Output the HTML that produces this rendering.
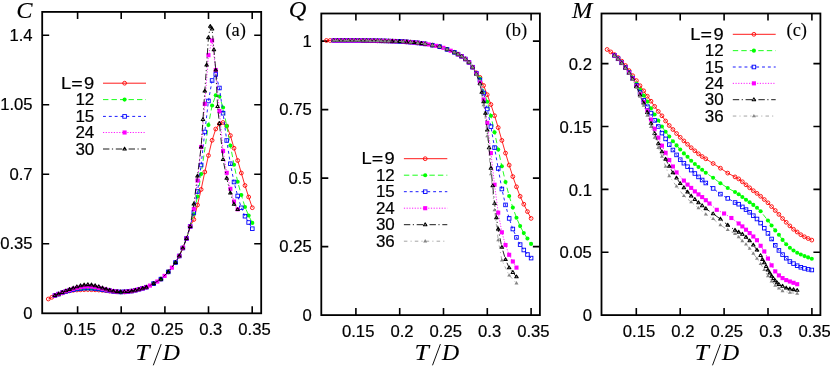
<!DOCTYPE html>
<html><head><meta charset="utf-8"><title>chart</title>
<style>
html,body{margin:0;padding:0;background:#fff;}
body{width:830px;height:370px;overflow:hidden;font-family:"Liberation Sans",sans-serif;}
svg{display:block;will-change:transform}
</style></head><body>
<svg width="830" height="370" viewBox="0 0 830 370">
<rect width="830" height="370" fill="#fff"/>
<g>
<rect x="42.2" y="11.9" width="219" height="301.4" fill="none" stroke="#000" stroke-width="1.8"/>
<path d="M77.6 313.3v-7M77.6 11.9v7M121.2 313.3v-7M121.2 11.9v7M164.9 313.3v-7M164.9 11.9v7M208.5 313.3v-7M208.5 11.9v7M252.2 313.3v-7M252.2 11.9v7M42.2 243.8h7M261.2 243.8h-7M42.2 174.3h7M261.2 174.3h-7M42.2 104.8h7M261.2 104.8h-7M42.2 35.3h7M261.2 35.3h-7" stroke="#000" stroke-width="1.6" fill="none"/>
<text transform="translate(79.9,335) scale(1.01,1)" font-family='"Liberation Sans", sans-serif' font-size="16.5" text-anchor="middle" fill="#000" stroke="#000" stroke-width="0.2">0.15</text>
<text transform="translate(123.5,335) scale(1.01,1)" font-family='"Liberation Sans", sans-serif' font-size="16.5" text-anchor="middle" fill="#000" stroke="#000" stroke-width="0.2">0.2</text>
<text transform="translate(167.2,335) scale(1.01,1)" font-family='"Liberation Sans", sans-serif' font-size="16.5" text-anchor="middle" fill="#000" stroke="#000" stroke-width="0.2">0.25</text>
<text transform="translate(210.8,335) scale(1.01,1)" font-family='"Liberation Sans", sans-serif' font-size="16.5" text-anchor="middle" fill="#000" stroke="#000" stroke-width="0.2">0.3</text>
<text transform="translate(254.5,335) scale(1.01,1)" font-family='"Liberation Sans", sans-serif' font-size="16.5" text-anchor="middle" fill="#000" stroke="#000" stroke-width="0.2">0.35</text>
<text transform="translate(32.6,249.4) scale(1.01,1)" font-family='"Liberation Sans", sans-serif' font-size="16.5" text-anchor="end" fill="#000" stroke="#000" stroke-width="0.2">0.35</text>
<text transform="translate(32.6,179.9) scale(1.01,1)" font-family='"Liberation Sans", sans-serif' font-size="16.5" text-anchor="end" fill="#000" stroke="#000" stroke-width="0.2">0.7</text>
<text transform="translate(32.6,110.4) scale(1.01,1)" font-family='"Liberation Sans", sans-serif' font-size="16.5" text-anchor="end" fill="#000" stroke="#000" stroke-width="0.2">1.05</text>
<text transform="translate(32.6,40.9) scale(1.01,1)" font-family='"Liberation Sans", sans-serif' font-size="16.5" text-anchor="end" fill="#000" stroke="#000" stroke-width="0.2">1.4</text>
<text transform="translate(32.6,318.9) scale(1.01,1)" font-family='"Liberation Sans", sans-serif' font-size="16.5" text-anchor="end" fill="#000" stroke="#000" stroke-width="0.2">0</text>
<polyline points="48.32,299.01 51.78,297.32 54.93,295.54 58.59,294.18 62.24,292.94 65.9,291.76 69.55,290.89 73.21,290.36 76.86,290 80.52,289.82 84.17,289.68 87.83,289.6 91.48,289.7 95.14,289.84 98.79,290.04 102.45,290.35 106.1,290.69 109.76,291.14 113.41,291.59 117.07,291.88 120.72,292.04 124.38,291.87 128.03,291.53 131.69,291.06 135.34,290.24 139,289.26 142.65,288.32 146.31,287.2 153.62,283.6 160.93,279.1 168.24,271.9 175.55,262.5 179.2,256 182.86,248 186.51,238.5 190.17,226.5 193.82,219.5 197.48,205 201.13,189.5 204.79,172 208.44,155.5 212.1,140.3 215.75,129 219.41,124 223.06,122.5 226.72,126 230.37,135.5 234.03,148.2 237.68,160.5 241.34,173 244.99,185.5 248.65,197 252.3,207.7" fill="none" stroke="#ff0000" stroke-width="0.85"/>
<circle cx="48.32" cy="299.01" r="1.9" fill="none" stroke="#ff0000" stroke-width="0.9"/><circle cx="51.78" cy="297.32" r="1.9" fill="none" stroke="#ff0000" stroke-width="0.9"/><circle cx="54.93" cy="295.54" r="1.9" fill="none" stroke="#ff0000" stroke-width="0.9"/><circle cx="58.59" cy="294.18" r="1.9" fill="none" stroke="#ff0000" stroke-width="0.9"/><circle cx="62.24" cy="292.94" r="1.9" fill="none" stroke="#ff0000" stroke-width="0.9"/><circle cx="65.9" cy="291.76" r="1.9" fill="none" stroke="#ff0000" stroke-width="0.9"/><circle cx="69.55" cy="290.89" r="1.9" fill="none" stroke="#ff0000" stroke-width="0.9"/><circle cx="73.21" cy="290.36" r="1.9" fill="none" stroke="#ff0000" stroke-width="0.9"/><circle cx="76.86" cy="290" r="1.9" fill="none" stroke="#ff0000" stroke-width="0.9"/><circle cx="80.52" cy="289.82" r="1.9" fill="none" stroke="#ff0000" stroke-width="0.9"/><circle cx="84.17" cy="289.68" r="1.9" fill="none" stroke="#ff0000" stroke-width="0.9"/><circle cx="87.83" cy="289.6" r="1.9" fill="none" stroke="#ff0000" stroke-width="0.9"/><circle cx="91.48" cy="289.7" r="1.9" fill="none" stroke="#ff0000" stroke-width="0.9"/><circle cx="95.14" cy="289.84" r="1.9" fill="none" stroke="#ff0000" stroke-width="0.9"/><circle cx="98.79" cy="290.04" r="1.9" fill="none" stroke="#ff0000" stroke-width="0.9"/><circle cx="102.45" cy="290.35" r="1.9" fill="none" stroke="#ff0000" stroke-width="0.9"/><circle cx="106.1" cy="290.69" r="1.9" fill="none" stroke="#ff0000" stroke-width="0.9"/><circle cx="109.76" cy="291.14" r="1.9" fill="none" stroke="#ff0000" stroke-width="0.9"/><circle cx="113.41" cy="291.59" r="1.9" fill="none" stroke="#ff0000" stroke-width="0.9"/><circle cx="117.07" cy="291.88" r="1.9" fill="none" stroke="#ff0000" stroke-width="0.9"/><circle cx="120.72" cy="292.04" r="1.9" fill="none" stroke="#ff0000" stroke-width="0.9"/><circle cx="124.38" cy="291.87" r="1.9" fill="none" stroke="#ff0000" stroke-width="0.9"/><circle cx="128.03" cy="291.53" r="1.9" fill="none" stroke="#ff0000" stroke-width="0.9"/><circle cx="131.69" cy="291.06" r="1.9" fill="none" stroke="#ff0000" stroke-width="0.9"/><circle cx="135.34" cy="290.24" r="1.9" fill="none" stroke="#ff0000" stroke-width="0.9"/><circle cx="139" cy="289.26" r="1.9" fill="none" stroke="#ff0000" stroke-width="0.9"/><circle cx="142.65" cy="288.32" r="1.9" fill="none" stroke="#ff0000" stroke-width="0.9"/><circle cx="146.31" cy="287.2" r="1.9" fill="none" stroke="#ff0000" stroke-width="0.9"/><circle cx="153.62" cy="283.6" r="1.9" fill="none" stroke="#ff0000" stroke-width="0.9"/><circle cx="160.93" cy="279.1" r="1.9" fill="none" stroke="#ff0000" stroke-width="0.9"/><circle cx="168.24" cy="271.9" r="1.9" fill="none" stroke="#ff0000" stroke-width="0.9"/><circle cx="175.55" cy="262.5" r="1.9" fill="none" stroke="#ff0000" stroke-width="0.9"/><circle cx="179.2" cy="256" r="1.9" fill="none" stroke="#ff0000" stroke-width="0.9"/><circle cx="182.86" cy="248" r="1.9" fill="none" stroke="#ff0000" stroke-width="0.9"/><circle cx="186.51" cy="238.5" r="1.9" fill="none" stroke="#ff0000" stroke-width="0.9"/><circle cx="190.17" cy="226.5" r="1.9" fill="none" stroke="#ff0000" stroke-width="0.9"/><circle cx="193.82" cy="219.5" r="1.9" fill="none" stroke="#ff0000" stroke-width="0.9"/><circle cx="197.48" cy="205" r="1.9" fill="none" stroke="#ff0000" stroke-width="0.9"/><circle cx="201.13" cy="189.5" r="1.9" fill="none" stroke="#ff0000" stroke-width="0.9"/><circle cx="204.79" cy="172" r="1.9" fill="none" stroke="#ff0000" stroke-width="0.9"/><circle cx="208.44" cy="155.5" r="1.9" fill="none" stroke="#ff0000" stroke-width="0.9"/><circle cx="212.1" cy="140.3" r="1.9" fill="none" stroke="#ff0000" stroke-width="0.9"/><circle cx="215.75" cy="129" r="1.9" fill="none" stroke="#ff0000" stroke-width="0.9"/><circle cx="219.41" cy="124" r="1.9" fill="none" stroke="#ff0000" stroke-width="0.9"/><circle cx="223.06" cy="122.5" r="1.9" fill="none" stroke="#ff0000" stroke-width="0.9"/><circle cx="226.72" cy="126" r="1.9" fill="none" stroke="#ff0000" stroke-width="0.9"/><circle cx="230.37" cy="135.5" r="1.9" fill="none" stroke="#ff0000" stroke-width="0.9"/><circle cx="234.03" cy="148.2" r="1.9" fill="none" stroke="#ff0000" stroke-width="0.9"/><circle cx="237.68" cy="160.5" r="1.9" fill="none" stroke="#ff0000" stroke-width="0.9"/><circle cx="241.34" cy="173" r="1.9" fill="none" stroke="#ff0000" stroke-width="0.9"/><circle cx="244.99" cy="185.5" r="1.9" fill="none" stroke="#ff0000" stroke-width="0.9"/><circle cx="248.65" cy="197" r="1.9" fill="none" stroke="#ff0000" stroke-width="0.9"/><circle cx="252.3" cy="207.7" r="1.9" fill="none" stroke="#ff0000" stroke-width="0.9"/>
<polyline points="54.93,295.51 58.59,294.12 62.24,292.82 65.9,291.53 69.55,290.52 73.21,289.8 76.86,289.22 80.52,288.83 84.17,288.54 87.83,288.4 91.48,288.55 95.14,288.84 98.79,289.23 102.45,289.77 106.1,290.31 109.76,290.91 113.41,291.46 117.07,291.82 120.72,292.01 124.38,291.86 128.03,291.52 131.69,291.06 135.34,290.24 139,289.26 142.65,288.32 146.31,287.2 153.62,283.6 160.93,279.1 168.24,271.9 175.55,262.5 179.2,256 182.86,248 186.51,238.5 190.17,226.5 193.82,214 197.48,196.5 201.13,174 208.44,125 212.1,105.5 215.75,95.3 219.41,96.5 223.06,107.5 226.72,126 230.37,145.5 234.03,164.7 237.68,181.8 241.34,195 244.99,207 248.65,215.5 252.3,222.9" fill="none" stroke="#00ff00" stroke-width="0.85" stroke-dasharray="5.4,3.1"/>
<circle cx="54.93" cy="295.51" r="2.05" fill="#00ff00"/><circle cx="58.59" cy="294.12" r="2.05" fill="#00ff00"/><circle cx="62.24" cy="292.82" r="2.05" fill="#00ff00"/><circle cx="65.9" cy="291.53" r="2.05" fill="#00ff00"/><circle cx="69.55" cy="290.52" r="2.05" fill="#00ff00"/><circle cx="73.21" cy="289.8" r="2.05" fill="#00ff00"/><circle cx="76.86" cy="289.22" r="2.05" fill="#00ff00"/><circle cx="80.52" cy="288.83" r="2.05" fill="#00ff00"/><circle cx="84.17" cy="288.54" r="2.05" fill="#00ff00"/><circle cx="87.83" cy="288.4" r="2.05" fill="#00ff00"/><circle cx="91.48" cy="288.55" r="2.05" fill="#00ff00"/><circle cx="95.14" cy="288.84" r="2.05" fill="#00ff00"/><circle cx="98.79" cy="289.23" r="2.05" fill="#00ff00"/><circle cx="102.45" cy="289.77" r="2.05" fill="#00ff00"/><circle cx="106.1" cy="290.31" r="2.05" fill="#00ff00"/><circle cx="109.76" cy="290.91" r="2.05" fill="#00ff00"/><circle cx="113.41" cy="291.46" r="2.05" fill="#00ff00"/><circle cx="117.07" cy="291.82" r="2.05" fill="#00ff00"/><circle cx="120.72" cy="292.01" r="2.05" fill="#00ff00"/><circle cx="124.38" cy="291.86" r="2.05" fill="#00ff00"/><circle cx="128.03" cy="291.52" r="2.05" fill="#00ff00"/><circle cx="131.69" cy="291.06" r="2.05" fill="#00ff00"/><circle cx="135.34" cy="290.24" r="2.05" fill="#00ff00"/><circle cx="139" cy="289.26" r="2.05" fill="#00ff00"/><circle cx="142.65" cy="288.32" r="2.05" fill="#00ff00"/><circle cx="146.31" cy="287.2" r="2.05" fill="#00ff00"/><circle cx="153.62" cy="283.6" r="2.05" fill="#00ff00"/><circle cx="160.93" cy="279.1" r="2.05" fill="#00ff00"/><circle cx="168.24" cy="271.9" r="2.05" fill="#00ff00"/><circle cx="175.55" cy="262.5" r="2.05" fill="#00ff00"/><circle cx="179.2" cy="256" r="2.05" fill="#00ff00"/><circle cx="182.86" cy="248" r="2.05" fill="#00ff00"/><circle cx="186.51" cy="238.5" r="2.05" fill="#00ff00"/><circle cx="190.17" cy="226.5" r="2.05" fill="#00ff00"/><circle cx="193.82" cy="214" r="2.05" fill="#00ff00"/><circle cx="197.48" cy="196.5" r="2.05" fill="#00ff00"/><circle cx="201.13" cy="174" r="2.05" fill="#00ff00"/><circle cx="208.44" cy="125" r="2.05" fill="#00ff00"/><circle cx="212.1" cy="105.5" r="2.05" fill="#00ff00"/><circle cx="215.75" cy="95.3" r="2.05" fill="#00ff00"/><circle cx="219.41" cy="96.5" r="2.05" fill="#00ff00"/><circle cx="223.06" cy="107.5" r="2.05" fill="#00ff00"/><circle cx="226.72" cy="126" r="2.05" fill="#00ff00"/><circle cx="230.37" cy="145.5" r="2.05" fill="#00ff00"/><circle cx="234.03" cy="164.7" r="2.05" fill="#00ff00"/><circle cx="237.68" cy="181.8" r="2.05" fill="#00ff00"/><circle cx="241.34" cy="195" r="2.05" fill="#00ff00"/><circle cx="244.99" cy="207" r="2.05" fill="#00ff00"/><circle cx="248.65" cy="215.5" r="2.05" fill="#00ff00"/><circle cx="252.3" cy="222.9" r="2.05" fill="#00ff00"/>
<polyline points="54.93,295.5 58.59,294.1 62.24,292.78 65.9,291.46 69.55,290.4 73.21,289.61 76.86,288.96 80.52,288.5 84.17,288.16 87.83,288 91.48,288.17 95.14,288.5 98.79,288.97 102.45,289.58 106.1,290.18 109.76,290.83 113.41,291.42 117.07,291.8 120.72,292 124.38,291.86 128.03,291.52 131.69,291.06 135.34,290.24 139,289.26 142.65,288.32 146.31,287.2 153.62,283.6 160.93,279.1 168.24,271.9 175.55,262.5 179.2,256 182.86,248 186.51,238.5 190.17,226.5 193.82,212.5 197.48,191.5 201.13,165 204.79,132 208.44,101 212.1,80.5 215.75,74.4 219.41,88 223.06,113.2 226.72,140.5 230.37,163.7 234.03,182 237.68,196 241.34,207.8 244.99,216.2 248.65,222.5 252.3,228.7" fill="none" stroke="#0000ff" stroke-width="0.85" stroke-dasharray="2.9,2.95"/>
<rect x="53.13" y="293.7" width="3.6" height="3.6" fill="none" stroke="#0000ff" stroke-width="0.9"/><rect x="56.79" y="292.3" width="3.6" height="3.6" fill="none" stroke="#0000ff" stroke-width="0.9"/><rect x="60.44" y="290.98" width="3.6" height="3.6" fill="none" stroke="#0000ff" stroke-width="0.9"/><rect x="64.1" y="289.66" width="3.6" height="3.6" fill="none" stroke="#0000ff" stroke-width="0.9"/><rect x="67.75" y="288.6" width="3.6" height="3.6" fill="none" stroke="#0000ff" stroke-width="0.9"/><rect x="71.41" y="287.81" width="3.6" height="3.6" fill="none" stroke="#0000ff" stroke-width="0.9"/><rect x="75.06" y="287.16" width="3.6" height="3.6" fill="none" stroke="#0000ff" stroke-width="0.9"/><rect x="78.72" y="286.7" width="3.6" height="3.6" fill="none" stroke="#0000ff" stroke-width="0.9"/><rect x="82.37" y="286.36" width="3.6" height="3.6" fill="none" stroke="#0000ff" stroke-width="0.9"/><rect x="86.03" y="286.2" width="3.6" height="3.6" fill="none" stroke="#0000ff" stroke-width="0.9"/><rect x="89.68" y="286.37" width="3.6" height="3.6" fill="none" stroke="#0000ff" stroke-width="0.9"/><rect x="93.34" y="286.7" width="3.6" height="3.6" fill="none" stroke="#0000ff" stroke-width="0.9"/><rect x="96.99" y="287.17" width="3.6" height="3.6" fill="none" stroke="#0000ff" stroke-width="0.9"/><rect x="100.65" y="287.78" width="3.6" height="3.6" fill="none" stroke="#0000ff" stroke-width="0.9"/><rect x="104.3" y="288.38" width="3.6" height="3.6" fill="none" stroke="#0000ff" stroke-width="0.9"/><rect x="107.96" y="289.03" width="3.6" height="3.6" fill="none" stroke="#0000ff" stroke-width="0.9"/><rect x="111.61" y="289.62" width="3.6" height="3.6" fill="none" stroke="#0000ff" stroke-width="0.9"/><rect x="115.27" y="290" width="3.6" height="3.6" fill="none" stroke="#0000ff" stroke-width="0.9"/><rect x="118.92" y="290.2" width="3.6" height="3.6" fill="none" stroke="#0000ff" stroke-width="0.9"/><rect x="122.58" y="290.06" width="3.6" height="3.6" fill="none" stroke="#0000ff" stroke-width="0.9"/><rect x="126.23" y="289.72" width="3.6" height="3.6" fill="none" stroke="#0000ff" stroke-width="0.9"/><rect x="129.88" y="289.26" width="3.6" height="3.6" fill="none" stroke="#0000ff" stroke-width="0.9"/><rect x="133.54" y="288.44" width="3.6" height="3.6" fill="none" stroke="#0000ff" stroke-width="0.9"/><rect x="137.19" y="287.46" width="3.6" height="3.6" fill="none" stroke="#0000ff" stroke-width="0.9"/><rect x="140.85" y="286.52" width="3.6" height="3.6" fill="none" stroke="#0000ff" stroke-width="0.9"/><rect x="144.5" y="285.4" width="3.6" height="3.6" fill="none" stroke="#0000ff" stroke-width="0.9"/><rect x="151.81" y="281.8" width="3.6" height="3.6" fill="none" stroke="#0000ff" stroke-width="0.9"/><rect x="159.12" y="277.3" width="3.6" height="3.6" fill="none" stroke="#0000ff" stroke-width="0.9"/><rect x="166.44" y="270.1" width="3.6" height="3.6" fill="none" stroke="#0000ff" stroke-width="0.9"/><rect x="173.75" y="260.7" width="3.6" height="3.6" fill="none" stroke="#0000ff" stroke-width="0.9"/><rect x="177.4" y="254.2" width="3.6" height="3.6" fill="none" stroke="#0000ff" stroke-width="0.9"/><rect x="181.06" y="246.2" width="3.6" height="3.6" fill="none" stroke="#0000ff" stroke-width="0.9"/><rect x="184.71" y="236.7" width="3.6" height="3.6" fill="none" stroke="#0000ff" stroke-width="0.9"/><rect x="188.37" y="224.7" width="3.6" height="3.6" fill="none" stroke="#0000ff" stroke-width="0.9"/><rect x="192.02" y="210.7" width="3.6" height="3.6" fill="none" stroke="#0000ff" stroke-width="0.9"/><rect x="195.68" y="189.7" width="3.6" height="3.6" fill="none" stroke="#0000ff" stroke-width="0.9"/><rect x="199.33" y="163.2" width="3.6" height="3.6" fill="none" stroke="#0000ff" stroke-width="0.9"/><rect x="202.99" y="130.2" width="3.6" height="3.6" fill="none" stroke="#0000ff" stroke-width="0.9"/><rect x="206.64" y="99.2" width="3.6" height="3.6" fill="none" stroke="#0000ff" stroke-width="0.9"/><rect x="210.3" y="78.7" width="3.6" height="3.6" fill="none" stroke="#0000ff" stroke-width="0.9"/><rect x="213.95" y="72.6" width="3.6" height="3.6" fill="none" stroke="#0000ff" stroke-width="0.9"/><rect x="217.61" y="86.2" width="3.6" height="3.6" fill="none" stroke="#0000ff" stroke-width="0.9"/><rect x="221.26" y="111.4" width="3.6" height="3.6" fill="none" stroke="#0000ff" stroke-width="0.9"/><rect x="224.91" y="138.7" width="3.6" height="3.6" fill="none" stroke="#0000ff" stroke-width="0.9"/><rect x="228.57" y="161.9" width="3.6" height="3.6" fill="none" stroke="#0000ff" stroke-width="0.9"/><rect x="232.22" y="180.2" width="3.6" height="3.6" fill="none" stroke="#0000ff" stroke-width="0.9"/><rect x="235.88" y="194.2" width="3.6" height="3.6" fill="none" stroke="#0000ff" stroke-width="0.9"/><rect x="239.53" y="206" width="3.6" height="3.6" fill="none" stroke="#0000ff" stroke-width="0.9"/><rect x="243.19" y="214.4" width="3.6" height="3.6" fill="none" stroke="#0000ff" stroke-width="0.9"/><rect x="246.84" y="220.7" width="3.6" height="3.6" fill="none" stroke="#0000ff" stroke-width="0.9"/><rect x="250.5" y="226.9" width="3.6" height="3.6" fill="none" stroke="#0000ff" stroke-width="0.9"/>
<polyline points="54.93,295.46 58.59,294.02 62.24,292.62 65.9,291.17 69.55,289.91 73.21,288.86 76.86,287.92 80.52,287.18 84.17,286.64 87.83,286.4 91.48,286.63 95.14,287.16 98.79,287.9 102.45,288.8 106.1,289.67 109.76,290.53 113.41,291.26 117.07,291.69 124.38,291.87 128.03,291.53 131.69,291.05 135.34,290.23 139,289.26 142.65,288.32 146.31,287.2 149.96,285.57 157.27,281.56 164.58,275.9 171.89,267.65 179.2,256 182.86,248 186.51,238.5 190.17,226.5 193.82,209 197.48,180.5 201.13,147 204.79,104 208.44,55.2 212.1,40.5 215.75,70 219.41,111 223.06,151 226.72,172.8 230.37,188.8 234.03,201.5 237.68,209.3" fill="none" stroke="#ff00ff" stroke-width="0.85" stroke-dasharray="1.2,1.5"/>
<rect x="52.88" y="293.41" width="4.1" height="4.1" fill="#ff00ff"/><rect x="56.54" y="291.97" width="4.1" height="4.1" fill="#ff00ff"/><rect x="60.19" y="290.57" width="4.1" height="4.1" fill="#ff00ff"/><rect x="63.85" y="289.12" width="4.1" height="4.1" fill="#ff00ff"/><rect x="67.5" y="287.86" width="4.1" height="4.1" fill="#ff00ff"/><rect x="71.16" y="286.81" width="4.1" height="4.1" fill="#ff00ff"/><rect x="74.81" y="285.87" width="4.1" height="4.1" fill="#ff00ff"/><rect x="78.47" y="285.13" width="4.1" height="4.1" fill="#ff00ff"/><rect x="82.12" y="284.59" width="4.1" height="4.1" fill="#ff00ff"/><rect x="85.78" y="284.35" width="4.1" height="4.1" fill="#ff00ff"/><rect x="89.43" y="284.58" width="4.1" height="4.1" fill="#ff00ff"/><rect x="93.09" y="285.11" width="4.1" height="4.1" fill="#ff00ff"/><rect x="96.74" y="285.85" width="4.1" height="4.1" fill="#ff00ff"/><rect x="100.4" y="286.75" width="4.1" height="4.1" fill="#ff00ff"/><rect x="104.05" y="287.62" width="4.1" height="4.1" fill="#ff00ff"/><rect x="107.71" y="288.48" width="4.1" height="4.1" fill="#ff00ff"/><rect x="111.36" y="289.21" width="4.1" height="4.1" fill="#ff00ff"/><rect x="115.02" y="289.64" width="4.1" height="4.1" fill="#ff00ff"/><rect x="122.33" y="289.82" width="4.1" height="4.1" fill="#ff00ff"/><rect x="125.98" y="289.48" width="4.1" height="4.1" fill="#ff00ff"/><rect x="129.63" y="289" width="4.1" height="4.1" fill="#ff00ff"/><rect x="133.29" y="288.18" width="4.1" height="4.1" fill="#ff00ff"/><rect x="136.94" y="287.21" width="4.1" height="4.1" fill="#ff00ff"/><rect x="140.6" y="286.27" width="4.1" height="4.1" fill="#ff00ff"/><rect x="144.25" y="285.15" width="4.1" height="4.1" fill="#ff00ff"/><rect x="147.91" y="283.52" width="4.1" height="4.1" fill="#ff00ff"/><rect x="155.22" y="279.51" width="4.1" height="4.1" fill="#ff00ff"/><rect x="162.53" y="273.85" width="4.1" height="4.1" fill="#ff00ff"/><rect x="169.84" y="265.6" width="4.1" height="4.1" fill="#ff00ff"/><rect x="177.15" y="253.95" width="4.1" height="4.1" fill="#ff00ff"/><rect x="180.81" y="245.95" width="4.1" height="4.1" fill="#ff00ff"/><rect x="184.46" y="236.45" width="4.1" height="4.1" fill="#ff00ff"/><rect x="188.12" y="224.45" width="4.1" height="4.1" fill="#ff00ff"/><rect x="191.77" y="206.95" width="4.1" height="4.1" fill="#ff00ff"/><rect x="195.43" y="178.45" width="4.1" height="4.1" fill="#ff00ff"/><rect x="199.08" y="144.95" width="4.1" height="4.1" fill="#ff00ff"/><rect x="202.74" y="101.95" width="4.1" height="4.1" fill="#ff00ff"/><rect x="206.39" y="53.15" width="4.1" height="4.1" fill="#ff00ff"/><rect x="210.05" y="38.45" width="4.1" height="4.1" fill="#ff00ff"/><rect x="213.7" y="67.95" width="4.1" height="4.1" fill="#ff00ff"/><rect x="217.36" y="108.95" width="4.1" height="4.1" fill="#ff00ff"/><rect x="221.01" y="148.95" width="4.1" height="4.1" fill="#ff00ff"/><rect x="224.66" y="170.75" width="4.1" height="4.1" fill="#ff00ff"/><rect x="228.32" y="186.75" width="4.1" height="4.1" fill="#ff00ff"/><rect x="231.97" y="199.45" width="4.1" height="4.1" fill="#ff00ff"/><rect x="235.63" y="207.25" width="4.1" height="4.1" fill="#ff00ff"/>
<polyline points="54.93,295.42 58.59,293.93 62.24,292.44 65.9,290.83 69.55,289.35 73.21,288.02 76.86,286.75 80.52,285.7 84.17,284.93 87.83,284.6 91.48,284.9 95.14,285.65 98.79,286.69 102.45,287.93 106.1,289.09 109.76,290.17 113.41,291.05 117.07,291.62 120.72,291.92 124.38,291.82 128.03,291.51 131.69,291.05 135.34,290.24 139,289.26 142.65,288.32 146.31,287.2 153.62,283.6 160.93,279.1 168.24,271.9 175.55,262.5 179.2,256 182.86,248 186.51,238.5 190.17,226.5 193.82,204 197.48,176 201.13,147 202.96,119.5 204.79,91 206.61,65 208.44,37.6 210.27,26.3 212.1,28.9 213.92,49.7 215.75,70 217.58,106.5 219.41,123.5 223.06,159.5 226.72,178.3 230.37,193 234.03,204.3 237.68,209.5" fill="none" stroke="#000000" stroke-width="0.85" stroke-dasharray="6.4,2.5,1.2,2.7"/>
<path d="M54.93 293.57L56.68 296.42L53.18 296.42Z" fill="none" stroke="#000000" stroke-width="1.05" stroke-linejoin="round"/><path d="M58.59 292.08L60.34 294.93L56.84 294.93Z" fill="none" stroke="#000000" stroke-width="1.05" stroke-linejoin="round"/><path d="M62.24 290.59L63.99 293.44L60.49 293.44Z" fill="none" stroke="#000000" stroke-width="1.05" stroke-linejoin="round"/><path d="M65.9 288.98L67.65 291.83L64.15 291.83Z" fill="none" stroke="#000000" stroke-width="1.05" stroke-linejoin="round"/><path d="M69.55 287.5L71.3 290.35L67.8 290.35Z" fill="none" stroke="#000000" stroke-width="1.05" stroke-linejoin="round"/><path d="M73.21 286.17L74.96 289.02L71.46 289.02Z" fill="none" stroke="#000000" stroke-width="1.05" stroke-linejoin="round"/><path d="M76.86 284.9L78.61 287.75L75.11 287.75Z" fill="none" stroke="#000000" stroke-width="1.05" stroke-linejoin="round"/><path d="M80.52 283.85L82.27 286.7L78.77 286.7Z" fill="none" stroke="#000000" stroke-width="1.05" stroke-linejoin="round"/><path d="M84.17 283.08L85.92 285.93L82.42 285.93Z" fill="none" stroke="#000000" stroke-width="1.05" stroke-linejoin="round"/><path d="M87.83 282.75L89.58 285.6L86.08 285.6Z" fill="none" stroke="#000000" stroke-width="1.05" stroke-linejoin="round"/><path d="M91.48 283.05L93.23 285.9L89.73 285.9Z" fill="none" stroke="#000000" stroke-width="1.05" stroke-linejoin="round"/><path d="M95.14 283.8L96.89 286.65L93.39 286.65Z" fill="none" stroke="#000000" stroke-width="1.05" stroke-linejoin="round"/><path d="M98.79 284.84L100.54 287.69L97.04 287.69Z" fill="none" stroke="#000000" stroke-width="1.05" stroke-linejoin="round"/><path d="M102.45 286.08L104.2 288.93L100.7 288.93Z" fill="none" stroke="#000000" stroke-width="1.05" stroke-linejoin="round"/><path d="M106.1 287.24L107.85 290.09L104.35 290.09Z" fill="none" stroke="#000000" stroke-width="1.05" stroke-linejoin="round"/><path d="M109.76 288.32L111.51 291.17L108.01 291.17Z" fill="none" stroke="#000000" stroke-width="1.05" stroke-linejoin="round"/><path d="M113.41 289.2L115.16 292.05L111.66 292.05Z" fill="none" stroke="#000000" stroke-width="1.05" stroke-linejoin="round"/><path d="M117.07 289.77L118.82 292.62L115.32 292.62Z" fill="none" stroke="#000000" stroke-width="1.05" stroke-linejoin="round"/><path d="M120.72 290.07L122.47 292.92L118.97 292.92Z" fill="none" stroke="#000000" stroke-width="1.05" stroke-linejoin="round"/><path d="M124.38 289.97L126.13 292.82L122.63 292.82Z" fill="none" stroke="#000000" stroke-width="1.05" stroke-linejoin="round"/><path d="M128.03 289.66L129.78 292.51L126.28 292.51Z" fill="none" stroke="#000000" stroke-width="1.05" stroke-linejoin="round"/><path d="M131.69 289.2L133.44 292.05L129.94 292.05Z" fill="none" stroke="#000000" stroke-width="1.05" stroke-linejoin="round"/><path d="M135.34 288.39L137.09 291.24L133.59 291.24Z" fill="none" stroke="#000000" stroke-width="1.05" stroke-linejoin="round"/><path d="M139 287.41L140.75 290.26L137.25 290.26Z" fill="none" stroke="#000000" stroke-width="1.05" stroke-linejoin="round"/><path d="M142.65 286.47L144.4 289.32L140.9 289.32Z" fill="none" stroke="#000000" stroke-width="1.05" stroke-linejoin="round"/><path d="M146.31 285.35L148.06 288.2L144.56 288.2Z" fill="none" stroke="#000000" stroke-width="1.05" stroke-linejoin="round"/><path d="M153.62 281.75L155.37 284.6L151.87 284.6Z" fill="none" stroke="#000000" stroke-width="1.05" stroke-linejoin="round"/><path d="M160.93 277.25L162.68 280.1L159.18 280.1Z" fill="none" stroke="#000000" stroke-width="1.05" stroke-linejoin="round"/><path d="M168.24 270.05L169.99 272.9L166.49 272.9Z" fill="none" stroke="#000000" stroke-width="1.05" stroke-linejoin="round"/><path d="M175.55 260.65L177.3 263.5L173.8 263.5Z" fill="none" stroke="#000000" stroke-width="1.05" stroke-linejoin="round"/><path d="M179.2 254.15L180.95 257L177.45 257Z" fill="none" stroke="#000000" stroke-width="1.05" stroke-linejoin="round"/><path d="M182.86 246.15L184.61 249L181.11 249Z" fill="none" stroke="#000000" stroke-width="1.05" stroke-linejoin="round"/><path d="M186.51 236.65L188.26 239.5L184.76 239.5Z" fill="none" stroke="#000000" stroke-width="1.05" stroke-linejoin="round"/><path d="M190.17 224.65L191.92 227.5L188.42 227.5Z" fill="none" stroke="#000000" stroke-width="1.05" stroke-linejoin="round"/><path d="M193.82 202.15L195.57 205L192.07 205Z" fill="none" stroke="#000000" stroke-width="1.05" stroke-linejoin="round"/><path d="M197.48 174.15L199.23 177L195.73 177Z" fill="none" stroke="#000000" stroke-width="1.05" stroke-linejoin="round"/><path d="M201.13 145.15L202.88 148L199.38 148Z" fill="none" stroke="#000000" stroke-width="1.05" stroke-linejoin="round"/><path d="M202.96 117.65L204.71 120.5L201.21 120.5Z" fill="none" stroke="#000000" stroke-width="1.05" stroke-linejoin="round"/><path d="M204.79 89.15L206.54 92L203.04 92Z" fill="none" stroke="#000000" stroke-width="1.05" stroke-linejoin="round"/><path d="M206.61 63.15L208.36 66L204.86 66Z" fill="none" stroke="#000000" stroke-width="1.05" stroke-linejoin="round"/><path d="M208.44 35.75L210.19 38.6L206.69 38.6Z" fill="none" stroke="#000000" stroke-width="1.05" stroke-linejoin="round"/><path d="M210.27 24.45L212.02 27.3L208.52 27.3Z" fill="none" stroke="#000000" stroke-width="1.05" stroke-linejoin="round"/><path d="M212.1 27.05L213.85 29.9L210.35 29.9Z" fill="none" stroke="#000000" stroke-width="1.05" stroke-linejoin="round"/><path d="M213.92 47.85L215.67 50.7L212.17 50.7Z" fill="none" stroke="#000000" stroke-width="1.05" stroke-linejoin="round"/><path d="M215.75 68.15L217.5 71L214 71Z" fill="none" stroke="#000000" stroke-width="1.05" stroke-linejoin="round"/><path d="M217.58 104.65L219.33 107.5L215.83 107.5Z" fill="none" stroke="#000000" stroke-width="1.05" stroke-linejoin="round"/><path d="M219.41 121.65L221.16 124.5L217.66 124.5Z" fill="none" stroke="#000000" stroke-width="1.05" stroke-linejoin="round"/><path d="M223.06 157.65L224.81 160.5L221.31 160.5Z" fill="none" stroke="#000000" stroke-width="1.05" stroke-linejoin="round"/><path d="M226.72 176.45L228.47 179.3L224.97 179.3Z" fill="none" stroke="#000000" stroke-width="1.05" stroke-linejoin="round"/><path d="M230.37 191.15L232.12 194L228.62 194Z" fill="none" stroke="#000000" stroke-width="1.05" stroke-linejoin="round"/><path d="M234.03 202.45L235.78 205.3L232.28 205.3Z" fill="none" stroke="#000000" stroke-width="1.05" stroke-linejoin="round"/><path d="M237.68 207.65L239.43 210.5L235.93 210.5Z" fill="none" stroke="#000000" stroke-width="1.05" stroke-linejoin="round"/>
<text transform="translate(94.3,88.8) scale(1.09,1)" font-family='"Liberation Sans", sans-serif' font-size="16.8" text-anchor="end" fill="#000" stroke="#000" stroke-width="0.2">9</text>
<text transform="translate(71.3,88.8) scale(1.17,1)" font-family='"Liberation Sans", sans-serif' font-size="16.8" text-anchor="start" fill="#000" stroke="#000" stroke-width="0.2">=</text>
<text transform="translate(60.9,88.8) scale(1.09,1)" font-family='"Liberation Sans", sans-serif' font-size="16.8" text-anchor="start" fill="#000" stroke="#000" stroke-width="0.2">L</text>
<path d="M103 83.2H146" stroke="#ff0000" stroke-width="0.9" fill="none"/>
<circle cx="124.6" cy="83.2" r="1.9" fill="none" stroke="#ff0000" stroke-width="0.9"/>
<text transform="translate(94.3,105.2) scale(1.01,1)" font-family='"Liberation Sans", sans-serif' font-size="16.8" text-anchor="end" fill="#000" stroke="#000" stroke-width="0.2">12</text>
<path d="M103 99.6H146" stroke="#00ff00" stroke-width="0.9" fill="none" stroke-dasharray="5.4,3.1"/>
<circle cx="124.6" cy="99.6" r="2.05" fill="#00ff00"/>
<text transform="translate(94.3,122) scale(1.01,1)" font-family='"Liberation Sans", sans-serif' font-size="16.8" text-anchor="end" fill="#000" stroke="#000" stroke-width="0.2">15</text>
<path d="M103 116.4H146" stroke="#0000ff" stroke-width="0.9" fill="none" stroke-dasharray="2.9,2.95"/>
<rect x="122.8" y="114.6" width="3.6" height="3.6" fill="none" stroke="#0000ff" stroke-width="0.9"/>
<text transform="translate(94.3,138.1) scale(1.01,1)" font-family='"Liberation Sans", sans-serif' font-size="16.8" text-anchor="end" fill="#000" stroke="#000" stroke-width="0.2">24</text>
<path d="M103 132.5H146" stroke="#ff00ff" stroke-width="0.9" fill="none" stroke-dasharray="1.2,1.5"/>
<rect x="122.55" y="130.45" width="4.1" height="4.1" fill="#ff00ff"/>
<text transform="translate(94.3,154.6) scale(1.01,1)" font-family='"Liberation Sans", sans-serif' font-size="16.8" text-anchor="end" fill="#000" stroke="#000" stroke-width="0.2">30</text>
<path d="M103 149H146" stroke="#000000" stroke-width="0.9" fill="none" stroke-dasharray="6.4,2.5,1.2,2.7"/>
<path d="M124.6 147.15L126.35 150L122.85 150Z" fill="none" stroke="#000000" stroke-width="1.05" stroke-linejoin="round"/>
<text transform="translate(16.2,18.2) scale(1.06,1)" font-family='"Liberation Serif", serif' font-style="italic" font-size="23" fill="#000" stroke="#000" stroke-width="0.12">C</text>
<text transform="translate(225.4,35.9) scale(1.0,1)" font-family='"Liberation Serif", serif' font-size="18.5" fill="#000" stroke="#000" stroke-width="0.12">(a)</text>
</g>
<g>
<rect x="321.3" y="13.5" width="218.6" height="301.6" fill="none" stroke="#000" stroke-width="1.8"/>
<path d="M355.9 315.1v-7M355.9 13.5v7M399.7 315.1v-7M399.7 13.5v7M443.5 315.1v-7M443.5 13.5v7M487.3 315.1v-7M487.3 13.5v7M531.1 315.1v-7M531.1 13.5v7M321.3 246.6h7M539.9 246.6h-7M321.3 178.1h7M539.9 178.1h-7M321.3 109.6h7M539.9 109.6h-7M321.3 41.1h7M539.9 41.1h-7" stroke="#000" stroke-width="1.6" fill="none"/>
<text transform="translate(358.2,336.7) scale(1.01,1)" font-family='"Liberation Sans", sans-serif' font-size="16.5" text-anchor="middle" fill="#000" stroke="#000" stroke-width="0.2">0.15</text>
<text transform="translate(402,336.7) scale(1.01,1)" font-family='"Liberation Sans", sans-serif' font-size="16.5" text-anchor="middle" fill="#000" stroke="#000" stroke-width="0.2">0.2</text>
<text transform="translate(445.8,336.7) scale(1.01,1)" font-family='"Liberation Sans", sans-serif' font-size="16.5" text-anchor="middle" fill="#000" stroke="#000" stroke-width="0.2">0.25</text>
<text transform="translate(489.6,336.7) scale(1.01,1)" font-family='"Liberation Sans", sans-serif' font-size="16.5" text-anchor="middle" fill="#000" stroke="#000" stroke-width="0.2">0.3</text>
<text transform="translate(533.4,336.7) scale(1.01,1)" font-family='"Liberation Sans", sans-serif' font-size="16.5" text-anchor="middle" fill="#000" stroke="#000" stroke-width="0.2">0.35</text>
<text transform="translate(311.7,252.2) scale(1.01,1)" font-family='"Liberation Sans", sans-serif' font-size="16.5" text-anchor="end" fill="#000" stroke="#000" stroke-width="0.2">0.25</text>
<text transform="translate(311.7,183.7) scale(1.01,1)" font-family='"Liberation Sans", sans-serif' font-size="16.5" text-anchor="end" fill="#000" stroke="#000" stroke-width="0.2">0.5</text>
<text transform="translate(311.7,115.2) scale(1.01,1)" font-family='"Liberation Sans", sans-serif' font-size="16.5" text-anchor="end" fill="#000" stroke="#000" stroke-width="0.2">0.75</text>
<text transform="translate(311.7,46.7) scale(1.01,1)" font-family='"Liberation Sans", sans-serif' font-size="16.5" text-anchor="end" fill="#000" stroke="#000" stroke-width="0.2">1</text>
<text transform="translate(311.9,320.9) scale(1.01,1)" font-family='"Liberation Sans", sans-serif' font-size="16.5" text-anchor="end" fill="#000" stroke="#000" stroke-width="0.2">0</text>
<polyline points="326.42,40.5 330.08,40.5 333.73,40.5 337.38,40.5 341.04,40.5 344.7,40.51 348.35,40.52 352,40.54 355.66,40.56 359.32,40.59 362.97,40.63 366.62,40.66 370.28,40.7 373.94,40.74 377.59,40.8 381.25,40.87 384.9,40.95 388.56,41.04 392.21,41.14 395.87,41.27 399.52,41.44 403.18,41.66 406.83,41.92 410.49,42.2 414.14,42.53 417.8,42.93 421.45,43.39 425.11,43.9 432.42,45.2 439.73,46.7 447.04,49.4 454.35,52.3 458,54.19 461.66,56.4 465.31,59 468.97,62.4 472.62,67.2 476.28,72.8 479.93,77.4 483.59,85.5 487.24,94.7 490.9,104.5 494.55,115.7 498.21,127.6 501.86,140.4 505.52,153.1 509.17,165.1 512.83,176.6 516.48,186.8 520.13,196.3 523.79,204.2 527.45,211.6 531.1,218.4" fill="none" stroke="#ff0000" stroke-width="0.85"/>
<circle cx="326.42" cy="40.5" r="1.9" fill="none" stroke="#ff0000" stroke-width="0.9"/><circle cx="330.08" cy="40.5" r="1.9" fill="none" stroke="#ff0000" stroke-width="0.9"/><circle cx="333.73" cy="40.5" r="1.9" fill="none" stroke="#ff0000" stroke-width="0.9"/><circle cx="337.38" cy="40.5" r="1.9" fill="none" stroke="#ff0000" stroke-width="0.9"/><circle cx="341.04" cy="40.5" r="1.9" fill="none" stroke="#ff0000" stroke-width="0.9"/><circle cx="344.7" cy="40.51" r="1.9" fill="none" stroke="#ff0000" stroke-width="0.9"/><circle cx="348.35" cy="40.52" r="1.9" fill="none" stroke="#ff0000" stroke-width="0.9"/><circle cx="352" cy="40.54" r="1.9" fill="none" stroke="#ff0000" stroke-width="0.9"/><circle cx="355.66" cy="40.56" r="1.9" fill="none" stroke="#ff0000" stroke-width="0.9"/><circle cx="359.32" cy="40.59" r="1.9" fill="none" stroke="#ff0000" stroke-width="0.9"/><circle cx="362.97" cy="40.63" r="1.9" fill="none" stroke="#ff0000" stroke-width="0.9"/><circle cx="366.62" cy="40.66" r="1.9" fill="none" stroke="#ff0000" stroke-width="0.9"/><circle cx="370.28" cy="40.7" r="1.9" fill="none" stroke="#ff0000" stroke-width="0.9"/><circle cx="373.94" cy="40.74" r="1.9" fill="none" stroke="#ff0000" stroke-width="0.9"/><circle cx="377.59" cy="40.8" r="1.9" fill="none" stroke="#ff0000" stroke-width="0.9"/><circle cx="381.25" cy="40.87" r="1.9" fill="none" stroke="#ff0000" stroke-width="0.9"/><circle cx="384.9" cy="40.95" r="1.9" fill="none" stroke="#ff0000" stroke-width="0.9"/><circle cx="388.56" cy="41.04" r="1.9" fill="none" stroke="#ff0000" stroke-width="0.9"/><circle cx="392.21" cy="41.14" r="1.9" fill="none" stroke="#ff0000" stroke-width="0.9"/><circle cx="395.87" cy="41.27" r="1.9" fill="none" stroke="#ff0000" stroke-width="0.9"/><circle cx="399.52" cy="41.44" r="1.9" fill="none" stroke="#ff0000" stroke-width="0.9"/><circle cx="403.18" cy="41.66" r="1.9" fill="none" stroke="#ff0000" stroke-width="0.9"/><circle cx="406.83" cy="41.92" r="1.9" fill="none" stroke="#ff0000" stroke-width="0.9"/><circle cx="410.49" cy="42.2" r="1.9" fill="none" stroke="#ff0000" stroke-width="0.9"/><circle cx="414.14" cy="42.53" r="1.9" fill="none" stroke="#ff0000" stroke-width="0.9"/><circle cx="417.8" cy="42.93" r="1.9" fill="none" stroke="#ff0000" stroke-width="0.9"/><circle cx="421.45" cy="43.39" r="1.9" fill="none" stroke="#ff0000" stroke-width="0.9"/><circle cx="425.11" cy="43.9" r="1.9" fill="none" stroke="#ff0000" stroke-width="0.9"/><circle cx="432.42" cy="45.2" r="1.9" fill="none" stroke="#ff0000" stroke-width="0.9"/><circle cx="439.73" cy="46.7" r="1.9" fill="none" stroke="#ff0000" stroke-width="0.9"/><circle cx="447.04" cy="49.4" r="1.9" fill="none" stroke="#ff0000" stroke-width="0.9"/><circle cx="454.35" cy="52.3" r="1.9" fill="none" stroke="#ff0000" stroke-width="0.9"/><circle cx="458" cy="54.19" r="1.9" fill="none" stroke="#ff0000" stroke-width="0.9"/><circle cx="461.66" cy="56.4" r="1.9" fill="none" stroke="#ff0000" stroke-width="0.9"/><circle cx="465.31" cy="59" r="1.9" fill="none" stroke="#ff0000" stroke-width="0.9"/><circle cx="468.97" cy="62.4" r="1.9" fill="none" stroke="#ff0000" stroke-width="0.9"/><circle cx="472.62" cy="67.2" r="1.9" fill="none" stroke="#ff0000" stroke-width="0.9"/><circle cx="476.28" cy="72.8" r="1.9" fill="none" stroke="#ff0000" stroke-width="0.9"/><circle cx="479.93" cy="77.4" r="1.9" fill="none" stroke="#ff0000" stroke-width="0.9"/><circle cx="483.59" cy="85.5" r="1.9" fill="none" stroke="#ff0000" stroke-width="0.9"/><circle cx="487.24" cy="94.7" r="1.9" fill="none" stroke="#ff0000" stroke-width="0.9"/><circle cx="490.9" cy="104.5" r="1.9" fill="none" stroke="#ff0000" stroke-width="0.9"/><circle cx="494.55" cy="115.7" r="1.9" fill="none" stroke="#ff0000" stroke-width="0.9"/><circle cx="498.21" cy="127.6" r="1.9" fill="none" stroke="#ff0000" stroke-width="0.9"/><circle cx="501.86" cy="140.4" r="1.9" fill="none" stroke="#ff0000" stroke-width="0.9"/><circle cx="505.52" cy="153.1" r="1.9" fill="none" stroke="#ff0000" stroke-width="0.9"/><circle cx="509.17" cy="165.1" r="1.9" fill="none" stroke="#ff0000" stroke-width="0.9"/><circle cx="512.83" cy="176.6" r="1.9" fill="none" stroke="#ff0000" stroke-width="0.9"/><circle cx="516.48" cy="186.8" r="1.9" fill="none" stroke="#ff0000" stroke-width="0.9"/><circle cx="520.13" cy="196.3" r="1.9" fill="none" stroke="#ff0000" stroke-width="0.9"/><circle cx="523.79" cy="204.2" r="1.9" fill="none" stroke="#ff0000" stroke-width="0.9"/><circle cx="527.45" cy="211.6" r="1.9" fill="none" stroke="#ff0000" stroke-width="0.9"/><circle cx="531.1" cy="218.4" r="1.9" fill="none" stroke="#ff0000" stroke-width="0.9"/>
<polyline points="333.73,40.5 337.38,40.5 341.04,40.5 344.7,40.51 348.35,40.52 352,40.54 355.66,40.56 359.32,40.59 362.97,40.63 366.62,40.66 370.28,40.7 373.94,40.74 377.59,40.8 381.25,40.87 384.9,40.95 388.56,41.04 392.21,41.14 395.87,41.27 399.52,41.44 403.18,41.66 406.83,41.92 410.49,42.2 414.14,42.53 417.8,42.93 421.45,43.39 425.11,43.9 432.42,45.2 439.73,46.7 447.04,49.4 454.35,52.3 458,54.19 461.66,56.4 465.31,59 468.97,62.4 472.62,67.2 476.28,73 479.93,78.5 487.24,101.8 490.9,115.8 494.55,132.3 498.21,149.6 501.86,166.2 505.52,182 509.17,196 512.83,207.6 516.48,217.7 520.13,226.1 523.79,233.1 527.45,238.5 531.1,243.9" fill="none" stroke="#00ff00" stroke-width="0.85" stroke-dasharray="5.4,3.1"/>
<circle cx="333.73" cy="40.5" r="2.05" fill="#00ff00"/><circle cx="337.38" cy="40.5" r="2.05" fill="#00ff00"/><circle cx="341.04" cy="40.5" r="2.05" fill="#00ff00"/><circle cx="344.7" cy="40.51" r="2.05" fill="#00ff00"/><circle cx="348.35" cy="40.52" r="2.05" fill="#00ff00"/><circle cx="352" cy="40.54" r="2.05" fill="#00ff00"/><circle cx="355.66" cy="40.56" r="2.05" fill="#00ff00"/><circle cx="359.32" cy="40.59" r="2.05" fill="#00ff00"/><circle cx="362.97" cy="40.63" r="2.05" fill="#00ff00"/><circle cx="366.62" cy="40.66" r="2.05" fill="#00ff00"/><circle cx="370.28" cy="40.7" r="2.05" fill="#00ff00"/><circle cx="373.94" cy="40.74" r="2.05" fill="#00ff00"/><circle cx="377.59" cy="40.8" r="2.05" fill="#00ff00"/><circle cx="381.25" cy="40.87" r="2.05" fill="#00ff00"/><circle cx="384.9" cy="40.95" r="2.05" fill="#00ff00"/><circle cx="388.56" cy="41.04" r="2.05" fill="#00ff00"/><circle cx="392.21" cy="41.14" r="2.05" fill="#00ff00"/><circle cx="395.87" cy="41.27" r="2.05" fill="#00ff00"/><circle cx="399.52" cy="41.44" r="2.05" fill="#00ff00"/><circle cx="403.18" cy="41.66" r="2.05" fill="#00ff00"/><circle cx="406.83" cy="41.92" r="2.05" fill="#00ff00"/><circle cx="410.49" cy="42.2" r="2.05" fill="#00ff00"/><circle cx="414.14" cy="42.53" r="2.05" fill="#00ff00"/><circle cx="417.8" cy="42.93" r="2.05" fill="#00ff00"/><circle cx="421.45" cy="43.39" r="2.05" fill="#00ff00"/><circle cx="425.11" cy="43.9" r="2.05" fill="#00ff00"/><circle cx="432.42" cy="45.2" r="2.05" fill="#00ff00"/><circle cx="439.73" cy="46.7" r="2.05" fill="#00ff00"/><circle cx="447.04" cy="49.4" r="2.05" fill="#00ff00"/><circle cx="454.35" cy="52.3" r="2.05" fill="#00ff00"/><circle cx="458" cy="54.19" r="2.05" fill="#00ff00"/><circle cx="461.66" cy="56.4" r="2.05" fill="#00ff00"/><circle cx="465.31" cy="59" r="2.05" fill="#00ff00"/><circle cx="468.97" cy="62.4" r="2.05" fill="#00ff00"/><circle cx="472.62" cy="67.2" r="2.05" fill="#00ff00"/><circle cx="476.28" cy="73" r="2.05" fill="#00ff00"/><circle cx="479.93" cy="78.5" r="2.05" fill="#00ff00"/><circle cx="487.24" cy="101.8" r="2.05" fill="#00ff00"/><circle cx="490.9" cy="115.8" r="2.05" fill="#00ff00"/><circle cx="494.55" cy="132.3" r="2.05" fill="#00ff00"/><circle cx="498.21" cy="149.6" r="2.05" fill="#00ff00"/><circle cx="501.86" cy="166.2" r="2.05" fill="#00ff00"/><circle cx="505.52" cy="182" r="2.05" fill="#00ff00"/><circle cx="509.17" cy="196" r="2.05" fill="#00ff00"/><circle cx="512.83" cy="207.6" r="2.05" fill="#00ff00"/><circle cx="516.48" cy="217.7" r="2.05" fill="#00ff00"/><circle cx="520.13" cy="226.1" r="2.05" fill="#00ff00"/><circle cx="523.79" cy="233.1" r="2.05" fill="#00ff00"/><circle cx="527.45" cy="238.5" r="2.05" fill="#00ff00"/><circle cx="531.1" cy="243.9" r="2.05" fill="#00ff00"/>
<polyline points="333.73,40.5 337.38,40.5 341.04,40.5 344.7,40.51 348.35,40.52 352,40.54 355.66,40.56 359.32,40.59 362.97,40.63 366.62,40.66 370.28,40.7 373.94,40.74 377.59,40.8 381.25,40.87 384.9,40.95 388.56,41.04 392.21,41.14 395.87,41.27 399.52,41.44 403.18,41.66 406.83,41.92 410.49,42.2 414.14,42.53 417.8,42.93 421.45,43.39 425.11,43.9 432.42,45.2 439.73,46.7 447.04,49.4 454.35,52.3 458,54.19 461.66,56.4 465.31,59 468.97,62.4 472.62,67.2 476.28,73.2 479.93,80 483.59,93 487.24,109 490.9,126.6 494.55,147.6 498.21,168.5 501.86,189 505.52,204.9 509.17,218.4 512.83,229 516.48,237.4 520.13,244.6 523.79,250 527.45,254.5 531.1,258.1" fill="none" stroke="#0000ff" stroke-width="0.85" stroke-dasharray="2.9,2.95"/>
<rect x="331.93" y="38.7" width="3.6" height="3.6" fill="none" stroke="#0000ff" stroke-width="0.9"/><rect x="335.58" y="38.7" width="3.6" height="3.6" fill="none" stroke="#0000ff" stroke-width="0.9"/><rect x="339.24" y="38.7" width="3.6" height="3.6" fill="none" stroke="#0000ff" stroke-width="0.9"/><rect x="342.9" y="38.71" width="3.6" height="3.6" fill="none" stroke="#0000ff" stroke-width="0.9"/><rect x="346.55" y="38.72" width="3.6" height="3.6" fill="none" stroke="#0000ff" stroke-width="0.9"/><rect x="350.2" y="38.74" width="3.6" height="3.6" fill="none" stroke="#0000ff" stroke-width="0.9"/><rect x="353.86" y="38.76" width="3.6" height="3.6" fill="none" stroke="#0000ff" stroke-width="0.9"/><rect x="357.52" y="38.79" width="3.6" height="3.6" fill="none" stroke="#0000ff" stroke-width="0.9"/><rect x="361.17" y="38.83" width="3.6" height="3.6" fill="none" stroke="#0000ff" stroke-width="0.9"/><rect x="364.82" y="38.86" width="3.6" height="3.6" fill="none" stroke="#0000ff" stroke-width="0.9"/><rect x="368.48" y="38.9" width="3.6" height="3.6" fill="none" stroke="#0000ff" stroke-width="0.9"/><rect x="372.14" y="38.94" width="3.6" height="3.6" fill="none" stroke="#0000ff" stroke-width="0.9"/><rect x="375.79" y="39" width="3.6" height="3.6" fill="none" stroke="#0000ff" stroke-width="0.9"/><rect x="379.44" y="39.07" width="3.6" height="3.6" fill="none" stroke="#0000ff" stroke-width="0.9"/><rect x="383.1" y="39.15" width="3.6" height="3.6" fill="none" stroke="#0000ff" stroke-width="0.9"/><rect x="386.76" y="39.24" width="3.6" height="3.6" fill="none" stroke="#0000ff" stroke-width="0.9"/><rect x="390.41" y="39.34" width="3.6" height="3.6" fill="none" stroke="#0000ff" stroke-width="0.9"/><rect x="394.06" y="39.47" width="3.6" height="3.6" fill="none" stroke="#0000ff" stroke-width="0.9"/><rect x="397.72" y="39.64" width="3.6" height="3.6" fill="none" stroke="#0000ff" stroke-width="0.9"/><rect x="401.38" y="39.86" width="3.6" height="3.6" fill="none" stroke="#0000ff" stroke-width="0.9"/><rect x="405.03" y="40.12" width="3.6" height="3.6" fill="none" stroke="#0000ff" stroke-width="0.9"/><rect x="408.69" y="40.4" width="3.6" height="3.6" fill="none" stroke="#0000ff" stroke-width="0.9"/><rect x="412.34" y="40.73" width="3.6" height="3.6" fill="none" stroke="#0000ff" stroke-width="0.9"/><rect x="416" y="41.13" width="3.6" height="3.6" fill="none" stroke="#0000ff" stroke-width="0.9"/><rect x="419.65" y="41.59" width="3.6" height="3.6" fill="none" stroke="#0000ff" stroke-width="0.9"/><rect x="423.31" y="42.1" width="3.6" height="3.6" fill="none" stroke="#0000ff" stroke-width="0.9"/><rect x="430.62" y="43.4" width="3.6" height="3.6" fill="none" stroke="#0000ff" stroke-width="0.9"/><rect x="437.93" y="44.9" width="3.6" height="3.6" fill="none" stroke="#0000ff" stroke-width="0.9"/><rect x="445.24" y="47.6" width="3.6" height="3.6" fill="none" stroke="#0000ff" stroke-width="0.9"/><rect x="452.55" y="50.5" width="3.6" height="3.6" fill="none" stroke="#0000ff" stroke-width="0.9"/><rect x="456.2" y="52.39" width="3.6" height="3.6" fill="none" stroke="#0000ff" stroke-width="0.9"/><rect x="459.86" y="54.6" width="3.6" height="3.6" fill="none" stroke="#0000ff" stroke-width="0.9"/><rect x="463.51" y="57.2" width="3.6" height="3.6" fill="none" stroke="#0000ff" stroke-width="0.9"/><rect x="467.17" y="60.6" width="3.6" height="3.6" fill="none" stroke="#0000ff" stroke-width="0.9"/><rect x="470.82" y="65.4" width="3.6" height="3.6" fill="none" stroke="#0000ff" stroke-width="0.9"/><rect x="474.48" y="71.4" width="3.6" height="3.6" fill="none" stroke="#0000ff" stroke-width="0.9"/><rect x="478.13" y="78.2" width="3.6" height="3.6" fill="none" stroke="#0000ff" stroke-width="0.9"/><rect x="481.79" y="91.2" width="3.6" height="3.6" fill="none" stroke="#0000ff" stroke-width="0.9"/><rect x="485.44" y="107.2" width="3.6" height="3.6" fill="none" stroke="#0000ff" stroke-width="0.9"/><rect x="489.1" y="124.8" width="3.6" height="3.6" fill="none" stroke="#0000ff" stroke-width="0.9"/><rect x="492.75" y="145.8" width="3.6" height="3.6" fill="none" stroke="#0000ff" stroke-width="0.9"/><rect x="496.41" y="166.7" width="3.6" height="3.6" fill="none" stroke="#0000ff" stroke-width="0.9"/><rect x="500.06" y="187.2" width="3.6" height="3.6" fill="none" stroke="#0000ff" stroke-width="0.9"/><rect x="503.72" y="203.1" width="3.6" height="3.6" fill="none" stroke="#0000ff" stroke-width="0.9"/><rect x="507.37" y="216.6" width="3.6" height="3.6" fill="none" stroke="#0000ff" stroke-width="0.9"/><rect x="511.03" y="227.2" width="3.6" height="3.6" fill="none" stroke="#0000ff" stroke-width="0.9"/><rect x="514.68" y="235.6" width="3.6" height="3.6" fill="none" stroke="#0000ff" stroke-width="0.9"/><rect x="518.34" y="242.8" width="3.6" height="3.6" fill="none" stroke="#0000ff" stroke-width="0.9"/><rect x="521.99" y="248.2" width="3.6" height="3.6" fill="none" stroke="#0000ff" stroke-width="0.9"/><rect x="525.65" y="252.7" width="3.6" height="3.6" fill="none" stroke="#0000ff" stroke-width="0.9"/><rect x="529.3" y="256.3" width="3.6" height="3.6" fill="none" stroke="#0000ff" stroke-width="0.9"/>
<polyline points="333.73,40.5 337.38,40.5 341.04,40.5 344.7,40.51 348.35,40.52 352,40.54 355.66,40.56 359.32,40.59 362.97,40.63 366.62,40.66 370.28,40.7 373.94,40.74 377.59,40.8 381.25,40.87 384.9,40.95 388.56,41.04 392.21,41.14 395.87,41.27 403.18,41.66 406.83,41.92 410.49,42.2 414.14,42.53 417.8,42.94 421.45,43.4 425.11,43.9 428.76,44.49 436.07,45.84 443.38,47.81 450.69,50.73 458,54.25 461.66,56.4 465.31,59 468.97,62.4 472.62,67.2 476.28,73.6 479.93,82.5 483.59,99.5 487.24,122.8 490.9,153.1 494.55,184.7 498.21,212.7 501.86,232.3 505.52,245 509.17,254.8 512.83,261.5 516.48,267.6" fill="none" stroke="#ff00ff" stroke-width="0.85" stroke-dasharray="1.2,1.5"/>
<rect x="331.68" y="38.45" width="4.1" height="4.1" fill="#ff00ff"/><rect x="335.33" y="38.45" width="4.1" height="4.1" fill="#ff00ff"/><rect x="338.99" y="38.45" width="4.1" height="4.1" fill="#ff00ff"/><rect x="342.65" y="38.46" width="4.1" height="4.1" fill="#ff00ff"/><rect x="346.3" y="38.47" width="4.1" height="4.1" fill="#ff00ff"/><rect x="349.95" y="38.49" width="4.1" height="4.1" fill="#ff00ff"/><rect x="353.61" y="38.51" width="4.1" height="4.1" fill="#ff00ff"/><rect x="357.27" y="38.54" width="4.1" height="4.1" fill="#ff00ff"/><rect x="360.92" y="38.58" width="4.1" height="4.1" fill="#ff00ff"/><rect x="364.57" y="38.61" width="4.1" height="4.1" fill="#ff00ff"/><rect x="368.23" y="38.65" width="4.1" height="4.1" fill="#ff00ff"/><rect x="371.89" y="38.69" width="4.1" height="4.1" fill="#ff00ff"/><rect x="375.54" y="38.75" width="4.1" height="4.1" fill="#ff00ff"/><rect x="379.19" y="38.82" width="4.1" height="4.1" fill="#ff00ff"/><rect x="382.85" y="38.9" width="4.1" height="4.1" fill="#ff00ff"/><rect x="386.51" y="38.99" width="4.1" height="4.1" fill="#ff00ff"/><rect x="390.16" y="39.09" width="4.1" height="4.1" fill="#ff00ff"/><rect x="393.81" y="39.22" width="4.1" height="4.1" fill="#ff00ff"/><rect x="401.12" y="39.61" width="4.1" height="4.1" fill="#ff00ff"/><rect x="404.78" y="39.87" width="4.1" height="4.1" fill="#ff00ff"/><rect x="408.44" y="40.15" width="4.1" height="4.1" fill="#ff00ff"/><rect x="412.09" y="40.48" width="4.1" height="4.1" fill="#ff00ff"/><rect x="415.75" y="40.89" width="4.1" height="4.1" fill="#ff00ff"/><rect x="419.4" y="41.35" width="4.1" height="4.1" fill="#ff00ff"/><rect x="423.06" y="41.85" width="4.1" height="4.1" fill="#ff00ff"/><rect x="426.71" y="42.44" width="4.1" height="4.1" fill="#ff00ff"/><rect x="434.02" y="43.79" width="4.1" height="4.1" fill="#ff00ff"/><rect x="441.33" y="45.76" width="4.1" height="4.1" fill="#ff00ff"/><rect x="448.64" y="48.68" width="4.1" height="4.1" fill="#ff00ff"/><rect x="455.95" y="52.2" width="4.1" height="4.1" fill="#ff00ff"/><rect x="459.61" y="54.35" width="4.1" height="4.1" fill="#ff00ff"/><rect x="463.26" y="56.95" width="4.1" height="4.1" fill="#ff00ff"/><rect x="466.92" y="60.35" width="4.1" height="4.1" fill="#ff00ff"/><rect x="470.57" y="65.15" width="4.1" height="4.1" fill="#ff00ff"/><rect x="474.23" y="71.55" width="4.1" height="4.1" fill="#ff00ff"/><rect x="477.88" y="80.45" width="4.1" height="4.1" fill="#ff00ff"/><rect x="481.54" y="97.45" width="4.1" height="4.1" fill="#ff00ff"/><rect x="485.19" y="120.75" width="4.1" height="4.1" fill="#ff00ff"/><rect x="488.85" y="151.05" width="4.1" height="4.1" fill="#ff00ff"/><rect x="492.5" y="182.65" width="4.1" height="4.1" fill="#ff00ff"/><rect x="496.16" y="210.65" width="4.1" height="4.1" fill="#ff00ff"/><rect x="499.81" y="230.25" width="4.1" height="4.1" fill="#ff00ff"/><rect x="503.47" y="242.95" width="4.1" height="4.1" fill="#ff00ff"/><rect x="507.12" y="252.75" width="4.1" height="4.1" fill="#ff00ff"/><rect x="510.78" y="259.45" width="4.1" height="4.1" fill="#ff00ff"/><rect x="514.43" y="265.55" width="4.1" height="4.1" fill="#ff00ff"/>
<polyline points="333.73,40.5 337.38,40.5 341.04,40.5 344.7,40.51 348.35,40.52 352,40.54 355.66,40.56 359.32,40.59 362.97,40.63 366.62,40.66 370.28,40.7 373.94,40.74 377.59,40.8 381.25,40.87 384.9,40.95 388.56,41.04 392.21,41.14 395.87,41.27 399.52,41.44 403.18,41.66 406.83,41.92 410.49,42.2 414.14,42.53 417.8,42.93 421.45,43.39 425.11,43.9 432.42,45.2 439.73,46.7 447.04,49.4 454.35,52.3 458,54.19 461.66,56.4 465.31,59 468.97,62.4 472.62,67.2 476.28,74 479.93,83.5 481.76,92.3 483.59,101.8 485.41,113.3 487.24,130 489.07,147.8 490.9,168.2 492.72,185.8 494.55,203.5 496.38,217.7 498.21,229.1 501.86,247.3 505.52,259.5 509.17,267.8 512.83,272.4 516.48,276.8" fill="none" stroke="#000000" stroke-width="0.85" stroke-dasharray="6.4,2.5,1.2,2.7"/>
<path d="M333.73 38.65L335.48 41.5L331.98 41.5Z" fill="none" stroke="#000000" stroke-width="1.05" stroke-linejoin="round"/><path d="M337.38 38.65L339.13 41.5L335.63 41.5Z" fill="none" stroke="#000000" stroke-width="1.05" stroke-linejoin="round"/><path d="M341.04 38.65L342.79 41.5L339.29 41.5Z" fill="none" stroke="#000000" stroke-width="1.05" stroke-linejoin="round"/><path d="M344.7 38.66L346.45 41.51L342.95 41.51Z" fill="none" stroke="#000000" stroke-width="1.05" stroke-linejoin="round"/><path d="M348.35 38.67L350.1 41.52L346.6 41.52Z" fill="none" stroke="#000000" stroke-width="1.05" stroke-linejoin="round"/><path d="M352 38.69L353.75 41.54L350.25 41.54Z" fill="none" stroke="#000000" stroke-width="1.05" stroke-linejoin="round"/><path d="M355.66 38.71L357.41 41.56L353.91 41.56Z" fill="none" stroke="#000000" stroke-width="1.05" stroke-linejoin="round"/><path d="M359.32 38.74L361.07 41.59L357.57 41.59Z" fill="none" stroke="#000000" stroke-width="1.05" stroke-linejoin="round"/><path d="M362.97 38.78L364.72 41.63L361.22 41.63Z" fill="none" stroke="#000000" stroke-width="1.05" stroke-linejoin="round"/><path d="M366.62 38.81L368.38 41.66L364.88 41.66Z" fill="none" stroke="#000000" stroke-width="1.05" stroke-linejoin="round"/><path d="M370.28 38.85L372.03 41.7L368.53 41.7Z" fill="none" stroke="#000000" stroke-width="1.05" stroke-linejoin="round"/><path d="M373.94 38.89L375.69 41.74L372.19 41.74Z" fill="none" stroke="#000000" stroke-width="1.05" stroke-linejoin="round"/><path d="M377.59 38.95L379.34 41.8L375.84 41.8Z" fill="none" stroke="#000000" stroke-width="1.05" stroke-linejoin="round"/><path d="M381.25 39.02L383 41.87L379.5 41.87Z" fill="none" stroke="#000000" stroke-width="1.05" stroke-linejoin="round"/><path d="M384.9 39.1L386.65 41.95L383.15 41.95Z" fill="none" stroke="#000000" stroke-width="1.05" stroke-linejoin="round"/><path d="M388.56 39.19L390.31 42.04L386.81 42.04Z" fill="none" stroke="#000000" stroke-width="1.05" stroke-linejoin="round"/><path d="M392.21 39.29L393.96 42.14L390.46 42.14Z" fill="none" stroke="#000000" stroke-width="1.05" stroke-linejoin="round"/><path d="M395.87 39.42L397.62 42.27L394.12 42.27Z" fill="none" stroke="#000000" stroke-width="1.05" stroke-linejoin="round"/><path d="M399.52 39.59L401.27 42.44L397.77 42.44Z" fill="none" stroke="#000000" stroke-width="1.05" stroke-linejoin="round"/><path d="M403.18 39.81L404.93 42.66L401.43 42.66Z" fill="none" stroke="#000000" stroke-width="1.05" stroke-linejoin="round"/><path d="M406.83 40.07L408.58 42.92L405.08 42.92Z" fill="none" stroke="#000000" stroke-width="1.05" stroke-linejoin="round"/><path d="M410.49 40.35L412.24 43.2L408.74 43.2Z" fill="none" stroke="#000000" stroke-width="1.05" stroke-linejoin="round"/><path d="M414.14 40.68L415.89 43.53L412.39 43.53Z" fill="none" stroke="#000000" stroke-width="1.05" stroke-linejoin="round"/><path d="M417.8 41.08L419.55 43.93L416.05 43.93Z" fill="none" stroke="#000000" stroke-width="1.05" stroke-linejoin="round"/><path d="M421.45 41.54L423.2 44.39L419.7 44.39Z" fill="none" stroke="#000000" stroke-width="1.05" stroke-linejoin="round"/><path d="M425.11 42.05L426.86 44.9L423.36 44.9Z" fill="none" stroke="#000000" stroke-width="1.05" stroke-linejoin="round"/><path d="M432.42 43.35L434.17 46.2L430.67 46.2Z" fill="none" stroke="#000000" stroke-width="1.05" stroke-linejoin="round"/><path d="M439.73 44.85L441.48 47.7L437.98 47.7Z" fill="none" stroke="#000000" stroke-width="1.05" stroke-linejoin="round"/><path d="M447.04 47.55L448.79 50.4L445.29 50.4Z" fill="none" stroke="#000000" stroke-width="1.05" stroke-linejoin="round"/><path d="M454.35 50.45L456.1 53.3L452.6 53.3Z" fill="none" stroke="#000000" stroke-width="1.05" stroke-linejoin="round"/><path d="M458 52.34L459.75 55.19L456.25 55.19Z" fill="none" stroke="#000000" stroke-width="1.05" stroke-linejoin="round"/><path d="M461.66 54.55L463.41 57.4L459.91 57.4Z" fill="none" stroke="#000000" stroke-width="1.05" stroke-linejoin="round"/><path d="M465.31 57.15L467.06 60L463.56 60Z" fill="none" stroke="#000000" stroke-width="1.05" stroke-linejoin="round"/><path d="M468.97 60.55L470.72 63.4L467.22 63.4Z" fill="none" stroke="#000000" stroke-width="1.05" stroke-linejoin="round"/><path d="M472.62 65.35L474.37 68.2L470.87 68.2Z" fill="none" stroke="#000000" stroke-width="1.05" stroke-linejoin="round"/><path d="M476.28 72.15L478.03 75L474.53 75Z" fill="none" stroke="#000000" stroke-width="1.05" stroke-linejoin="round"/><path d="M479.93 81.65L481.68 84.5L478.18 84.5Z" fill="none" stroke="#000000" stroke-width="1.05" stroke-linejoin="round"/><path d="M481.76 90.45L483.51 93.3L480.01 93.3Z" fill="none" stroke="#000000" stroke-width="1.05" stroke-linejoin="round"/><path d="M483.59 99.95L485.34 102.8L481.84 102.8Z" fill="none" stroke="#000000" stroke-width="1.05" stroke-linejoin="round"/><path d="M485.41 111.45L487.16 114.3L483.66 114.3Z" fill="none" stroke="#000000" stroke-width="1.05" stroke-linejoin="round"/><path d="M487.24 128.15L488.99 131L485.49 131Z" fill="none" stroke="#000000" stroke-width="1.05" stroke-linejoin="round"/><path d="M489.07 145.95L490.82 148.8L487.32 148.8Z" fill="none" stroke="#000000" stroke-width="1.05" stroke-linejoin="round"/><path d="M490.9 166.35L492.65 169.2L489.15 169.2Z" fill="none" stroke="#000000" stroke-width="1.05" stroke-linejoin="round"/><path d="M492.72 183.95L494.47 186.8L490.97 186.8Z" fill="none" stroke="#000000" stroke-width="1.05" stroke-linejoin="round"/><path d="M494.55 201.65L496.3 204.5L492.8 204.5Z" fill="none" stroke="#000000" stroke-width="1.05" stroke-linejoin="round"/><path d="M496.38 215.85L498.13 218.7L494.63 218.7Z" fill="none" stroke="#000000" stroke-width="1.05" stroke-linejoin="round"/><path d="M498.21 227.25L499.96 230.1L496.46 230.1Z" fill="none" stroke="#000000" stroke-width="1.05" stroke-linejoin="round"/><path d="M501.86 245.45L503.61 248.3L500.11 248.3Z" fill="none" stroke="#000000" stroke-width="1.05" stroke-linejoin="round"/><path d="M505.52 257.65L507.27 260.5L503.77 260.5Z" fill="none" stroke="#000000" stroke-width="1.05" stroke-linejoin="round"/><path d="M509.17 265.95L510.92 268.8L507.42 268.8Z" fill="none" stroke="#000000" stroke-width="1.05" stroke-linejoin="round"/><path d="M512.83 270.55L514.58 273.4L511.08 273.4Z" fill="none" stroke="#000000" stroke-width="1.05" stroke-linejoin="round"/><path d="M516.48 274.95L518.23 277.8L514.73 277.8Z" fill="none" stroke="#000000" stroke-width="1.05" stroke-linejoin="round"/>
<polyline points="333.73,40.5 337.38,40.5 341.04,40.5 344.7,40.51 348.35,40.52 352,40.54 355.66,40.56 359.32,40.59 362.97,40.63 366.62,40.66 370.28,40.7 373.94,40.74 377.59,40.8 381.25,40.87 384.9,40.95 388.56,41.04 395.87,41.27 403.18,41.66 410.49,42.2 417.8,42.93 425.11,43.9 432.42,45.2 439.73,46.7 447.04,49.4 454.35,52.3 458,54.19 461.66,56.4 465.31,59 468.97,62.4 472.62,67.2 476.28,74.2 479.93,84.5 483.59,105 487.24,136 490.9,174 494.55,210 498.21,240 501.86,260.3 509.17,275.4 516.48,283.2" fill="none" stroke="#9a9a9a" stroke-width="0.85" stroke-dasharray="3.5,3.2,1,3.2"/>
<path d="M333.73 38.4L335.73 41.7L331.73 41.7Z" fill="#858585"/><path d="M337.38 38.4L339.38 41.7L335.38 41.7Z" fill="#858585"/><path d="M341.04 38.4L343.04 41.7L339.04 41.7Z" fill="#858585"/><path d="M344.7 38.41L346.7 41.71L342.7 41.71Z" fill="#858585"/><path d="M348.35 38.42L350.35 41.72L346.35 41.72Z" fill="#858585"/><path d="M352 38.44L354 41.74L350 41.74Z" fill="#858585"/><path d="M355.66 38.46L357.66 41.76L353.66 41.76Z" fill="#858585"/><path d="M359.32 38.49L361.32 41.79L357.32 41.79Z" fill="#858585"/><path d="M362.97 38.53L364.97 41.83L360.97 41.83Z" fill="#858585"/><path d="M366.62 38.56L368.62 41.86L364.62 41.86Z" fill="#858585"/><path d="M370.28 38.6L372.28 41.9L368.28 41.9Z" fill="#858585"/><path d="M373.94 38.64L375.94 41.94L371.94 41.94Z" fill="#858585"/><path d="M377.59 38.7L379.59 42L375.59 42Z" fill="#858585"/><path d="M381.25 38.77L383.25 42.07L379.25 42.07Z" fill="#858585"/><path d="M384.9 38.85L386.9 42.15L382.9 42.15Z" fill="#858585"/><path d="M388.56 38.94L390.56 42.24L386.56 42.24Z" fill="#858585"/><path d="M395.87 39.17L397.87 42.47L393.87 42.47Z" fill="#858585"/><path d="M403.18 39.56L405.18 42.86L401.18 42.86Z" fill="#858585"/><path d="M410.49 40.1L412.49 43.4L408.49 43.4Z" fill="#858585"/><path d="M417.8 40.83L419.8 44.13L415.8 44.13Z" fill="#858585"/><path d="M425.11 41.8L427.11 45.1L423.11 45.1Z" fill="#858585"/><path d="M432.42 43.1L434.42 46.4L430.42 46.4Z" fill="#858585"/><path d="M439.73 44.6L441.73 47.9L437.73 47.9Z" fill="#858585"/><path d="M447.04 47.3L449.04 50.6L445.04 50.6Z" fill="#858585"/><path d="M454.35 50.2L456.35 53.5L452.35 53.5Z" fill="#858585"/><path d="M458 52.09L460 55.39L456 55.39Z" fill="#858585"/><path d="M461.66 54.3L463.66 57.6L459.66 57.6Z" fill="#858585"/><path d="M465.31 56.9L467.31 60.2L463.31 60.2Z" fill="#858585"/><path d="M468.97 60.3L470.97 63.6L466.97 63.6Z" fill="#858585"/><path d="M472.62 65.1L474.62 68.4L470.62 68.4Z" fill="#858585"/><path d="M476.28 72.1L478.28 75.4L474.28 75.4Z" fill="#858585"/><path d="M479.93 82.4L481.93 85.7L477.93 85.7Z" fill="#858585"/><path d="M483.59 102.9L485.59 106.2L481.59 106.2Z" fill="#858585"/><path d="M487.24 133.9L489.24 137.2L485.24 137.2Z" fill="#858585"/><path d="M490.9 171.9L492.9 175.2L488.9 175.2Z" fill="#858585"/><path d="M494.55 207.9L496.55 211.2L492.55 211.2Z" fill="#858585"/><path d="M498.21 237.9L500.21 241.2L496.21 241.2Z" fill="#858585"/><path d="M501.86 258.2L503.86 261.5L499.86 261.5Z" fill="#858585"/><path d="M509.17 273.3L511.17 276.6L507.17 276.6Z" fill="#858585"/><path d="M516.48 281.1L518.48 284.4L514.48 284.4Z" fill="#858585"/>
<text transform="translate(394.8,164.3) scale(1.09,1)" font-family='"Liberation Sans", sans-serif' font-size="16.8" text-anchor="end" fill="#000" stroke="#000" stroke-width="0.2">9</text>
<text transform="translate(371.8,164.3) scale(1.17,1)" font-family='"Liberation Sans", sans-serif' font-size="16.8" text-anchor="start" fill="#000" stroke="#000" stroke-width="0.2">=</text>
<text transform="translate(361.4,164.3) scale(1.09,1)" font-family='"Liberation Sans", sans-serif' font-size="16.8" text-anchor="start" fill="#000" stroke="#000" stroke-width="0.2">L</text>
<path d="M403.9 158.7H447.3" stroke="#ff0000" stroke-width="0.9" fill="none"/>
<circle cx="425.2" cy="158.7" r="1.9" fill="none" stroke="#ff0000" stroke-width="0.9"/>
<text transform="translate(394.8,180.8) scale(1.01,1)" font-family='"Liberation Sans", sans-serif' font-size="16.8" text-anchor="end" fill="#000" stroke="#000" stroke-width="0.2">12</text>
<path d="M403.9 175.2H447.3" stroke="#00ff00" stroke-width="0.9" fill="none" stroke-dasharray="5.4,3.1"/>
<circle cx="425.2" cy="175.2" r="2.05" fill="#00ff00"/>
<text transform="translate(394.8,197.3) scale(1.01,1)" font-family='"Liberation Sans", sans-serif' font-size="16.8" text-anchor="end" fill="#000" stroke="#000" stroke-width="0.2">15</text>
<path d="M403.9 191.7H447.3" stroke="#0000ff" stroke-width="0.9" fill="none" stroke-dasharray="2.9,2.95"/>
<rect x="423.4" y="189.9" width="3.6" height="3.6" fill="none" stroke="#0000ff" stroke-width="0.9"/>
<text transform="translate(394.8,213.8) scale(1.01,1)" font-family='"Liberation Sans", sans-serif' font-size="16.8" text-anchor="end" fill="#000" stroke="#000" stroke-width="0.2">24</text>
<path d="M403.9 208.2H447.3" stroke="#ff00ff" stroke-width="0.9" fill="none" stroke-dasharray="1.2,1.5"/>
<rect x="423.15" y="206.15" width="4.1" height="4.1" fill="#ff00ff"/>
<text transform="translate(394.8,230.3) scale(1.01,1)" font-family='"Liberation Sans", sans-serif' font-size="16.8" text-anchor="end" fill="#000" stroke="#000" stroke-width="0.2">30</text>
<path d="M403.9 224.7H447.3" stroke="#000000" stroke-width="0.9" fill="none" stroke-dasharray="6.4,2.5,1.2,2.7"/>
<path d="M425.2 222.85L426.95 225.7L423.45 225.7Z" fill="none" stroke="#000000" stroke-width="1.05" stroke-linejoin="round"/>
<text transform="translate(394.8,246.8) scale(1.01,1)" font-family='"Liberation Sans", sans-serif' font-size="16.8" text-anchor="end" fill="#000" stroke="#000" stroke-width="0.2">36</text>
<path d="M403.9 241.2H447.3" stroke="#9a9a9a" stroke-width="0.9" fill="none" stroke-dasharray="3.5,3.2,1,3.2"/>
<path d="M425.2 239.1L427.2 242.4L423.2 242.4Z" fill="#858585"/>
<text transform="translate(288.7,17) scale(1.06,1)" font-family='"Liberation Serif", serif' font-style="italic" font-size="23" fill="#000" stroke="#000" stroke-width="0.12">Q</text>
<text transform="translate(505.6,35.9) scale(1.0,1)" font-family='"Liberation Serif", serif' font-size="18.5" fill="#000" stroke="#000" stroke-width="0.12">(b)</text>
</g>
<g>
<rect x="601.5" y="13.5" width="218.9" height="301.6" fill="none" stroke="#000" stroke-width="1.8"/>
<path d="M636.3 315.1v-7M636.3 13.5v7M680.2 315.1v-7M680.2 13.5v7M724.1 315.1v-7M724.1 13.5v7M768 315.1v-7M768 13.5v7M811.9 315.1v-7M811.9 13.5v7M601.5 252.23h7M820.4 252.23h-7M601.5 189.36h7M820.4 189.36h-7M601.5 126.49h7M820.4 126.49h-7M601.5 63.62h7M820.4 63.62h-7" stroke="#000" stroke-width="1.6" fill="none"/>
<text transform="translate(639,336.7) scale(1.01,1)" font-family='"Liberation Sans", sans-serif' font-size="16.5" text-anchor="middle" fill="#000" stroke="#000" stroke-width="0.2">0.15</text>
<text transform="translate(682.9,336.7) scale(1.01,1)" font-family='"Liberation Sans", sans-serif' font-size="16.5" text-anchor="middle" fill="#000" stroke="#000" stroke-width="0.2">0.2</text>
<text transform="translate(726.8,336.7) scale(1.01,1)" font-family='"Liberation Sans", sans-serif' font-size="16.5" text-anchor="middle" fill="#000" stroke="#000" stroke-width="0.2">0.25</text>
<text transform="translate(770.7,336.7) scale(1.01,1)" font-family='"Liberation Sans", sans-serif' font-size="16.5" text-anchor="middle" fill="#000" stroke="#000" stroke-width="0.2">0.3</text>
<text transform="translate(814.6,336.7) scale(1.01,1)" font-family='"Liberation Sans", sans-serif' font-size="16.5" text-anchor="middle" fill="#000" stroke="#000" stroke-width="0.2">0.35</text>
<text transform="translate(591.9,258.43) scale(1.01,1)" font-family='"Liberation Sans", sans-serif' font-size="16.5" text-anchor="end" fill="#000" stroke="#000" stroke-width="0.2">0.05</text>
<text transform="translate(591.9,195.56) scale(1.01,1)" font-family='"Liberation Sans", sans-serif' font-size="16.5" text-anchor="end" fill="#000" stroke="#000" stroke-width="0.2">0.1</text>
<text transform="translate(591.9,132.69) scale(1.01,1)" font-family='"Liberation Sans", sans-serif' font-size="16.5" text-anchor="end" fill="#000" stroke="#000" stroke-width="0.2">0.15</text>
<text transform="translate(591.9,69.82) scale(1.01,1)" font-family='"Liberation Sans", sans-serif' font-size="16.5" text-anchor="end" fill="#000" stroke="#000" stroke-width="0.2">0.2</text>
<text transform="translate(592.1,320.9) scale(1.01,1)" font-family='"Liberation Sans", sans-serif' font-size="16.5" text-anchor="end" fill="#000" stroke="#000" stroke-width="0.2">0</text>
<polyline points="607.12,49.5 610.77,51.9 614.43,54.5 618.08,57.5 621.74,61.2 625.39,65.5 629.05,70.6 632.7,75.7 636.36,80.6 640.01,85.7 643.67,90.8 647.32,96.2 650.98,101.2 654.63,106.4 658.29,111.4 661.94,115.8 665.6,121 669.25,125.5 672.91,129.5 676.56,133.5 680.22,137.3 683.88,140.9 687.53,144.3 691.18,147.7 694.84,150.8 698.5,153.8 702.15,156.5 705.8,158.8 713.12,163.5 720.42,168.2 727.73,173.1 735.04,176.9 738.7,178.9 742.36,181.75 746.01,184.82 749.66,187.8 753.32,190.7 756.97,193.4 760.63,196.3 764.28,199.5 767.94,202.8 771.59,206.6 775.25,210.5 778.9,214.4 782.56,218.5 786.21,222.3 789.87,225.9 793.52,229.3 797.18,232 800.83,234.7 804.49,236.8 808.14,238.5 811.8,240.1" fill="none" stroke="#ff0000" stroke-width="0.85"/>
<circle cx="607.12" cy="49.5" r="1.9" fill="none" stroke="#ff0000" stroke-width="0.9"/><circle cx="610.77" cy="51.9" r="1.9" fill="none" stroke="#ff0000" stroke-width="0.9"/><circle cx="614.43" cy="54.5" r="1.9" fill="none" stroke="#ff0000" stroke-width="0.9"/><circle cx="618.08" cy="57.5" r="1.9" fill="none" stroke="#ff0000" stroke-width="0.9"/><circle cx="621.74" cy="61.2" r="1.9" fill="none" stroke="#ff0000" stroke-width="0.9"/><circle cx="625.39" cy="65.5" r="1.9" fill="none" stroke="#ff0000" stroke-width="0.9"/><circle cx="629.05" cy="70.6" r="1.9" fill="none" stroke="#ff0000" stroke-width="0.9"/><circle cx="632.7" cy="75.7" r="1.9" fill="none" stroke="#ff0000" stroke-width="0.9"/><circle cx="636.36" cy="80.6" r="1.9" fill="none" stroke="#ff0000" stroke-width="0.9"/><circle cx="640.01" cy="85.7" r="1.9" fill="none" stroke="#ff0000" stroke-width="0.9"/><circle cx="643.67" cy="90.8" r="1.9" fill="none" stroke="#ff0000" stroke-width="0.9"/><circle cx="647.32" cy="96.2" r="1.9" fill="none" stroke="#ff0000" stroke-width="0.9"/><circle cx="650.98" cy="101.2" r="1.9" fill="none" stroke="#ff0000" stroke-width="0.9"/><circle cx="654.63" cy="106.4" r="1.9" fill="none" stroke="#ff0000" stroke-width="0.9"/><circle cx="658.29" cy="111.4" r="1.9" fill="none" stroke="#ff0000" stroke-width="0.9"/><circle cx="661.94" cy="115.8" r="1.9" fill="none" stroke="#ff0000" stroke-width="0.9"/><circle cx="665.6" cy="121" r="1.9" fill="none" stroke="#ff0000" stroke-width="0.9"/><circle cx="669.25" cy="125.5" r="1.9" fill="none" stroke="#ff0000" stroke-width="0.9"/><circle cx="672.91" cy="129.5" r="1.9" fill="none" stroke="#ff0000" stroke-width="0.9"/><circle cx="676.56" cy="133.5" r="1.9" fill="none" stroke="#ff0000" stroke-width="0.9"/><circle cx="680.22" cy="137.3" r="1.9" fill="none" stroke="#ff0000" stroke-width="0.9"/><circle cx="683.88" cy="140.9" r="1.9" fill="none" stroke="#ff0000" stroke-width="0.9"/><circle cx="687.53" cy="144.3" r="1.9" fill="none" stroke="#ff0000" stroke-width="0.9"/><circle cx="691.18" cy="147.7" r="1.9" fill="none" stroke="#ff0000" stroke-width="0.9"/><circle cx="694.84" cy="150.8" r="1.9" fill="none" stroke="#ff0000" stroke-width="0.9"/><circle cx="698.5" cy="153.8" r="1.9" fill="none" stroke="#ff0000" stroke-width="0.9"/><circle cx="702.15" cy="156.5" r="1.9" fill="none" stroke="#ff0000" stroke-width="0.9"/><circle cx="705.8" cy="158.8" r="1.9" fill="none" stroke="#ff0000" stroke-width="0.9"/><circle cx="713.12" cy="163.5" r="1.9" fill="none" stroke="#ff0000" stroke-width="0.9"/><circle cx="720.42" cy="168.2" r="1.9" fill="none" stroke="#ff0000" stroke-width="0.9"/><circle cx="727.73" cy="173.1" r="1.9" fill="none" stroke="#ff0000" stroke-width="0.9"/><circle cx="735.04" cy="176.9" r="1.9" fill="none" stroke="#ff0000" stroke-width="0.9"/><circle cx="738.7" cy="178.9" r="1.9" fill="none" stroke="#ff0000" stroke-width="0.9"/><circle cx="742.36" cy="181.75" r="1.9" fill="none" stroke="#ff0000" stroke-width="0.9"/><circle cx="746.01" cy="184.82" r="1.9" fill="none" stroke="#ff0000" stroke-width="0.9"/><circle cx="749.66" cy="187.8" r="1.9" fill="none" stroke="#ff0000" stroke-width="0.9"/><circle cx="753.32" cy="190.7" r="1.9" fill="none" stroke="#ff0000" stroke-width="0.9"/><circle cx="756.97" cy="193.4" r="1.9" fill="none" stroke="#ff0000" stroke-width="0.9"/><circle cx="760.63" cy="196.3" r="1.9" fill="none" stroke="#ff0000" stroke-width="0.9"/><circle cx="764.28" cy="199.5" r="1.9" fill="none" stroke="#ff0000" stroke-width="0.9"/><circle cx="767.94" cy="202.8" r="1.9" fill="none" stroke="#ff0000" stroke-width="0.9"/><circle cx="771.59" cy="206.6" r="1.9" fill="none" stroke="#ff0000" stroke-width="0.9"/><circle cx="775.25" cy="210.5" r="1.9" fill="none" stroke="#ff0000" stroke-width="0.9"/><circle cx="778.9" cy="214.4" r="1.9" fill="none" stroke="#ff0000" stroke-width="0.9"/><circle cx="782.56" cy="218.5" r="1.9" fill="none" stroke="#ff0000" stroke-width="0.9"/><circle cx="786.21" cy="222.3" r="1.9" fill="none" stroke="#ff0000" stroke-width="0.9"/><circle cx="789.87" cy="225.9" r="1.9" fill="none" stroke="#ff0000" stroke-width="0.9"/><circle cx="793.52" cy="229.3" r="1.9" fill="none" stroke="#ff0000" stroke-width="0.9"/><circle cx="797.18" cy="232" r="1.9" fill="none" stroke="#ff0000" stroke-width="0.9"/><circle cx="800.83" cy="234.7" r="1.9" fill="none" stroke="#ff0000" stroke-width="0.9"/><circle cx="804.49" cy="236.8" r="1.9" fill="none" stroke="#ff0000" stroke-width="0.9"/><circle cx="808.14" cy="238.5" r="1.9" fill="none" stroke="#ff0000" stroke-width="0.9"/><circle cx="811.8" cy="240.1" r="1.9" fill="none" stroke="#ff0000" stroke-width="0.9"/>
<polyline points="614.43,55.3 618.08,58.6 621.74,62.5 625.39,67 629.05,72 632.7,77.5 636.36,83.5 640.01,89.5 643.67,95.5 647.32,101.6 650.98,108.4 654.63,114.5 658.29,120.5 661.94,126.5 665.6,131.8 669.25,136.5 672.91,141.2 676.56,145.4 680.22,149.5 683.88,153.4 687.53,156.8 691.18,160.8 694.84,164 698.5,167 702.15,169.8 705.8,172.8 713.12,177.8 720.42,183.2 727.73,188 735.04,192 738.7,194.2 742.36,197 746.01,199.7 749.66,202.2 753.32,204.9 756.97,207.8 760.63,211.3 767.94,220.5 771.59,225.5 775.25,230.4 778.9,234.8 782.56,239.9 786.21,244.2 789.87,247.8 793.52,250.5 797.18,252.8 800.83,254.5 804.49,256.1 808.14,257.4 811.8,258.8" fill="none" stroke="#00ff00" stroke-width="0.85" stroke-dasharray="5.4,3.1"/>
<circle cx="614.43" cy="55.3" r="2.05" fill="#00ff00"/><circle cx="618.08" cy="58.6" r="2.05" fill="#00ff00"/><circle cx="621.74" cy="62.5" r="2.05" fill="#00ff00"/><circle cx="625.39" cy="67" r="2.05" fill="#00ff00"/><circle cx="629.05" cy="72" r="2.05" fill="#00ff00"/><circle cx="632.7" cy="77.5" r="2.05" fill="#00ff00"/><circle cx="636.36" cy="83.5" r="2.05" fill="#00ff00"/><circle cx="640.01" cy="89.5" r="2.05" fill="#00ff00"/><circle cx="643.67" cy="95.5" r="2.05" fill="#00ff00"/><circle cx="647.32" cy="101.6" r="2.05" fill="#00ff00"/><circle cx="650.98" cy="108.4" r="2.05" fill="#00ff00"/><circle cx="654.63" cy="114.5" r="2.05" fill="#00ff00"/><circle cx="658.29" cy="120.5" r="2.05" fill="#00ff00"/><circle cx="661.94" cy="126.5" r="2.05" fill="#00ff00"/><circle cx="665.6" cy="131.8" r="2.05" fill="#00ff00"/><circle cx="669.25" cy="136.5" r="2.05" fill="#00ff00"/><circle cx="672.91" cy="141.2" r="2.05" fill="#00ff00"/><circle cx="676.56" cy="145.4" r="2.05" fill="#00ff00"/><circle cx="680.22" cy="149.5" r="2.05" fill="#00ff00"/><circle cx="683.88" cy="153.4" r="2.05" fill="#00ff00"/><circle cx="687.53" cy="156.8" r="2.05" fill="#00ff00"/><circle cx="691.18" cy="160.8" r="2.05" fill="#00ff00"/><circle cx="694.84" cy="164" r="2.05" fill="#00ff00"/><circle cx="698.5" cy="167" r="2.05" fill="#00ff00"/><circle cx="702.15" cy="169.8" r="2.05" fill="#00ff00"/><circle cx="705.8" cy="172.8" r="2.05" fill="#00ff00"/><circle cx="713.12" cy="177.8" r="2.05" fill="#00ff00"/><circle cx="720.42" cy="183.2" r="2.05" fill="#00ff00"/><circle cx="727.73" cy="188" r="2.05" fill="#00ff00"/><circle cx="735.04" cy="192" r="2.05" fill="#00ff00"/><circle cx="738.7" cy="194.2" r="2.05" fill="#00ff00"/><circle cx="742.36" cy="197" r="2.05" fill="#00ff00"/><circle cx="746.01" cy="199.7" r="2.05" fill="#00ff00"/><circle cx="749.66" cy="202.2" r="2.05" fill="#00ff00"/><circle cx="753.32" cy="204.9" r="2.05" fill="#00ff00"/><circle cx="756.97" cy="207.8" r="2.05" fill="#00ff00"/><circle cx="760.63" cy="211.3" r="2.05" fill="#00ff00"/><circle cx="767.94" cy="220.5" r="2.05" fill="#00ff00"/><circle cx="771.59" cy="225.5" r="2.05" fill="#00ff00"/><circle cx="775.25" cy="230.4" r="2.05" fill="#00ff00"/><circle cx="778.9" cy="234.8" r="2.05" fill="#00ff00"/><circle cx="782.56" cy="239.9" r="2.05" fill="#00ff00"/><circle cx="786.21" cy="244.2" r="2.05" fill="#00ff00"/><circle cx="789.87" cy="247.8" r="2.05" fill="#00ff00"/><circle cx="793.52" cy="250.5" r="2.05" fill="#00ff00"/><circle cx="797.18" cy="252.8" r="2.05" fill="#00ff00"/><circle cx="800.83" cy="254.5" r="2.05" fill="#00ff00"/><circle cx="804.49" cy="256.1" r="2.05" fill="#00ff00"/><circle cx="808.14" cy="257.4" r="2.05" fill="#00ff00"/><circle cx="811.8" cy="258.8" r="2.05" fill="#00ff00"/>
<polyline points="614.43,55.4 618.08,58.8 621.74,62.8 625.39,67.5 629.05,72.6 632.7,78.3 636.36,85.2 640.01,92.5 643.67,100.3 647.32,106.8 650.98,113.1 654.63,120.4 658.29,126.5 661.94,133.1 665.6,138.9 669.25,144.6 672.91,150 676.56,154.9 680.22,159.7 683.88,163.2 687.53,166.7 691.18,170.1 694.84,173.5 698.5,176.9 702.15,180 705.8,183 713.12,188.4 720.42,194.1 727.73,198.4 735.04,202.5 738.7,204.2 742.36,206.9 746.01,209.6 749.66,212.3 753.32,215.7 756.97,219 760.63,223.1 764.28,228.2 767.94,233.4 771.59,239 775.25,245.3 778.9,250.4 782.56,254.6 786.21,258.2 789.87,261.5 793.52,263.6 797.18,265.7 800.83,267.3 804.49,268.4 808.14,269.3 811.8,270" fill="none" stroke="#0000ff" stroke-width="0.85" stroke-dasharray="2.9,2.95"/>
<rect x="612.63" y="53.6" width="3.6" height="3.6" fill="none" stroke="#0000ff" stroke-width="0.9"/><rect x="616.28" y="57" width="3.6" height="3.6" fill="none" stroke="#0000ff" stroke-width="0.9"/><rect x="619.94" y="61" width="3.6" height="3.6" fill="none" stroke="#0000ff" stroke-width="0.9"/><rect x="623.6" y="65.7" width="3.6" height="3.6" fill="none" stroke="#0000ff" stroke-width="0.9"/><rect x="627.25" y="70.8" width="3.6" height="3.6" fill="none" stroke="#0000ff" stroke-width="0.9"/><rect x="630.9" y="76.5" width="3.6" height="3.6" fill="none" stroke="#0000ff" stroke-width="0.9"/><rect x="634.56" y="83.4" width="3.6" height="3.6" fill="none" stroke="#0000ff" stroke-width="0.9"/><rect x="638.22" y="90.7" width="3.6" height="3.6" fill="none" stroke="#0000ff" stroke-width="0.9"/><rect x="641.87" y="98.5" width="3.6" height="3.6" fill="none" stroke="#0000ff" stroke-width="0.9"/><rect x="645.52" y="105" width="3.6" height="3.6" fill="none" stroke="#0000ff" stroke-width="0.9"/><rect x="649.18" y="111.3" width="3.6" height="3.6" fill="none" stroke="#0000ff" stroke-width="0.9"/><rect x="652.84" y="118.6" width="3.6" height="3.6" fill="none" stroke="#0000ff" stroke-width="0.9"/><rect x="656.49" y="124.7" width="3.6" height="3.6" fill="none" stroke="#0000ff" stroke-width="0.9"/><rect x="660.14" y="131.3" width="3.6" height="3.6" fill="none" stroke="#0000ff" stroke-width="0.9"/><rect x="663.8" y="137.1" width="3.6" height="3.6" fill="none" stroke="#0000ff" stroke-width="0.9"/><rect x="667.46" y="142.8" width="3.6" height="3.6" fill="none" stroke="#0000ff" stroke-width="0.9"/><rect x="671.11" y="148.2" width="3.6" height="3.6" fill="none" stroke="#0000ff" stroke-width="0.9"/><rect x="674.76" y="153.1" width="3.6" height="3.6" fill="none" stroke="#0000ff" stroke-width="0.9"/><rect x="678.42" y="157.9" width="3.6" height="3.6" fill="none" stroke="#0000ff" stroke-width="0.9"/><rect x="682.08" y="161.4" width="3.6" height="3.6" fill="none" stroke="#0000ff" stroke-width="0.9"/><rect x="685.73" y="164.9" width="3.6" height="3.6" fill="none" stroke="#0000ff" stroke-width="0.9"/><rect x="689.38" y="168.3" width="3.6" height="3.6" fill="none" stroke="#0000ff" stroke-width="0.9"/><rect x="693.04" y="171.7" width="3.6" height="3.6" fill="none" stroke="#0000ff" stroke-width="0.9"/><rect x="696.7" y="175.1" width="3.6" height="3.6" fill="none" stroke="#0000ff" stroke-width="0.9"/><rect x="700.35" y="178.2" width="3.6" height="3.6" fill="none" stroke="#0000ff" stroke-width="0.9"/><rect x="704" y="181.2" width="3.6" height="3.6" fill="none" stroke="#0000ff" stroke-width="0.9"/><rect x="711.32" y="186.6" width="3.6" height="3.6" fill="none" stroke="#0000ff" stroke-width="0.9"/><rect x="718.62" y="192.3" width="3.6" height="3.6" fill="none" stroke="#0000ff" stroke-width="0.9"/><rect x="725.93" y="196.6" width="3.6" height="3.6" fill="none" stroke="#0000ff" stroke-width="0.9"/><rect x="733.25" y="200.7" width="3.6" height="3.6" fill="none" stroke="#0000ff" stroke-width="0.9"/><rect x="736.9" y="202.4" width="3.6" height="3.6" fill="none" stroke="#0000ff" stroke-width="0.9"/><rect x="740.56" y="205.1" width="3.6" height="3.6" fill="none" stroke="#0000ff" stroke-width="0.9"/><rect x="744.21" y="207.8" width="3.6" height="3.6" fill="none" stroke="#0000ff" stroke-width="0.9"/><rect x="747.87" y="210.5" width="3.6" height="3.6" fill="none" stroke="#0000ff" stroke-width="0.9"/><rect x="751.52" y="213.9" width="3.6" height="3.6" fill="none" stroke="#0000ff" stroke-width="0.9"/><rect x="755.17" y="217.2" width="3.6" height="3.6" fill="none" stroke="#0000ff" stroke-width="0.9"/><rect x="758.83" y="221.3" width="3.6" height="3.6" fill="none" stroke="#0000ff" stroke-width="0.9"/><rect x="762.49" y="226.4" width="3.6" height="3.6" fill="none" stroke="#0000ff" stroke-width="0.9"/><rect x="766.14" y="231.6" width="3.6" height="3.6" fill="none" stroke="#0000ff" stroke-width="0.9"/><rect x="769.79" y="237.2" width="3.6" height="3.6" fill="none" stroke="#0000ff" stroke-width="0.9"/><rect x="773.45" y="243.5" width="3.6" height="3.6" fill="none" stroke="#0000ff" stroke-width="0.9"/><rect x="777.11" y="248.6" width="3.6" height="3.6" fill="none" stroke="#0000ff" stroke-width="0.9"/><rect x="780.76" y="252.8" width="3.6" height="3.6" fill="none" stroke="#0000ff" stroke-width="0.9"/><rect x="784.41" y="256.4" width="3.6" height="3.6" fill="none" stroke="#0000ff" stroke-width="0.9"/><rect x="788.07" y="259.7" width="3.6" height="3.6" fill="none" stroke="#0000ff" stroke-width="0.9"/><rect x="791.73" y="261.8" width="3.6" height="3.6" fill="none" stroke="#0000ff" stroke-width="0.9"/><rect x="795.38" y="263.9" width="3.6" height="3.6" fill="none" stroke="#0000ff" stroke-width="0.9"/><rect x="799.03" y="265.5" width="3.6" height="3.6" fill="none" stroke="#0000ff" stroke-width="0.9"/><rect x="802.69" y="266.6" width="3.6" height="3.6" fill="none" stroke="#0000ff" stroke-width="0.9"/><rect x="806.35" y="267.5" width="3.6" height="3.6" fill="none" stroke="#0000ff" stroke-width="0.9"/><rect x="810" y="268.2" width="3.6" height="3.6" fill="none" stroke="#0000ff" stroke-width="0.9"/>
<polyline points="614.43,55.5 618.08,58.9 621.74,63 625.39,67.7 629.05,72.8 632.7,78.5 636.36,86 640.01,94 643.67,102 647.32,110.5 650.98,119.5 654.63,128.8 658.29,137.6 661.94,145.7 665.6,152.8 669.25,160 672.91,166.5 676.56,172.4 683.88,180.6 687.53,184.6 691.18,187.9 694.84,191.4 698.5,194.4 702.15,197.1 705.8,200.2 709.46,203.5 716.77,209.8 724.08,213.5 731.39,218 738.7,223.5 742.36,226.4 746.01,229.7 749.66,233.1 753.32,236.5 756.97,240.2 760.63,245.8 764.28,251.4 767.94,258.5 771.59,265.3 775.25,271.4 778.9,275.4 782.56,278.1 786.21,280.1 789.87,281.5 793.52,282.8 797.18,284.2" fill="none" stroke="#ff00ff" stroke-width="0.85" stroke-dasharray="1.2,1.5"/>
<rect x="612.38" y="53.45" width="4.1" height="4.1" fill="#ff00ff"/><rect x="616.03" y="56.85" width="4.1" height="4.1" fill="#ff00ff"/><rect x="619.69" y="60.95" width="4.1" height="4.1" fill="#ff00ff"/><rect x="623.35" y="65.65" width="4.1" height="4.1" fill="#ff00ff"/><rect x="627" y="70.75" width="4.1" height="4.1" fill="#ff00ff"/><rect x="630.65" y="76.45" width="4.1" height="4.1" fill="#ff00ff"/><rect x="634.31" y="83.95" width="4.1" height="4.1" fill="#ff00ff"/><rect x="637.97" y="91.95" width="4.1" height="4.1" fill="#ff00ff"/><rect x="641.62" y="99.95" width="4.1" height="4.1" fill="#ff00ff"/><rect x="645.27" y="108.45" width="4.1" height="4.1" fill="#ff00ff"/><rect x="648.93" y="117.45" width="4.1" height="4.1" fill="#ff00ff"/><rect x="652.59" y="126.75" width="4.1" height="4.1" fill="#ff00ff"/><rect x="656.24" y="135.55" width="4.1" height="4.1" fill="#ff00ff"/><rect x="659.89" y="143.65" width="4.1" height="4.1" fill="#ff00ff"/><rect x="663.55" y="150.75" width="4.1" height="4.1" fill="#ff00ff"/><rect x="667.21" y="157.95" width="4.1" height="4.1" fill="#ff00ff"/><rect x="670.86" y="164.45" width="4.1" height="4.1" fill="#ff00ff"/><rect x="674.51" y="170.35" width="4.1" height="4.1" fill="#ff00ff"/><rect x="681.83" y="178.55" width="4.1" height="4.1" fill="#ff00ff"/><rect x="685.48" y="182.55" width="4.1" height="4.1" fill="#ff00ff"/><rect x="689.13" y="185.85" width="4.1" height="4.1" fill="#ff00ff"/><rect x="692.79" y="189.35" width="4.1" height="4.1" fill="#ff00ff"/><rect x="696.45" y="192.35" width="4.1" height="4.1" fill="#ff00ff"/><rect x="700.1" y="195.05" width="4.1" height="4.1" fill="#ff00ff"/><rect x="703.75" y="198.15" width="4.1" height="4.1" fill="#ff00ff"/><rect x="707.41" y="201.45" width="4.1" height="4.1" fill="#ff00ff"/><rect x="714.72" y="207.75" width="4.1" height="4.1" fill="#ff00ff"/><rect x="722.03" y="211.45" width="4.1" height="4.1" fill="#ff00ff"/><rect x="729.34" y="215.95" width="4.1" height="4.1" fill="#ff00ff"/><rect x="736.65" y="221.45" width="4.1" height="4.1" fill="#ff00ff"/><rect x="740.31" y="224.35" width="4.1" height="4.1" fill="#ff00ff"/><rect x="743.96" y="227.65" width="4.1" height="4.1" fill="#ff00ff"/><rect x="747.62" y="231.05" width="4.1" height="4.1" fill="#ff00ff"/><rect x="751.27" y="234.45" width="4.1" height="4.1" fill="#ff00ff"/><rect x="754.92" y="238.15" width="4.1" height="4.1" fill="#ff00ff"/><rect x="758.58" y="243.75" width="4.1" height="4.1" fill="#ff00ff"/><rect x="762.24" y="249.35" width="4.1" height="4.1" fill="#ff00ff"/><rect x="765.89" y="256.45" width="4.1" height="4.1" fill="#ff00ff"/><rect x="769.54" y="263.25" width="4.1" height="4.1" fill="#ff00ff"/><rect x="773.2" y="269.35" width="4.1" height="4.1" fill="#ff00ff"/><rect x="776.86" y="273.35" width="4.1" height="4.1" fill="#ff00ff"/><rect x="780.51" y="276.05" width="4.1" height="4.1" fill="#ff00ff"/><rect x="784.16" y="278.05" width="4.1" height="4.1" fill="#ff00ff"/><rect x="787.82" y="279.45" width="4.1" height="4.1" fill="#ff00ff"/><rect x="791.48" y="280.75" width="4.1" height="4.1" fill="#ff00ff"/><rect x="795.13" y="282.15" width="4.1" height="4.1" fill="#ff00ff"/>
<polyline points="614.43,55.6 618.08,59 621.74,63.1 625.39,67.9 629.05,73 632.7,79 636.36,86.5 640.01,94.9 643.67,103 647.32,112.4 650.98,123.3 654.63,133.5 658.29,143.6 661.94,151.8 665.6,159.2 669.25,166.3 672.91,172.8 676.56,178 680.22,183.5 683.88,187.7 687.53,192 691.18,196 694.84,199.4 698.5,202.7 702.15,205.7 705.8,208.6 713.12,213.8 720.42,219 727.73,225.1 735.04,230.2 738.7,232.15 742.36,234.2 746.01,237.2 749.66,240.8 753.32,245 756.97,250 760.63,255.5 762.46,259.5 764.28,262.8 766.11,266.4 767.94,270 769.77,273 771.59,276.1 773.42,278.5 775.25,280.8 777.08,282.8 778.9,284.5 782.56,286.2 786.21,288 789.87,288.9 793.52,289.6 797.18,290.3" fill="none" stroke="#000000" stroke-width="0.85" stroke-dasharray="6.4,2.5,1.2,2.7"/>
<path d="M614.43 53.75L616.18 56.6L612.68 56.6Z" fill="none" stroke="#000000" stroke-width="1.05" stroke-linejoin="round"/><path d="M618.08 57.15L619.83 60L616.33 60Z" fill="none" stroke="#000000" stroke-width="1.05" stroke-linejoin="round"/><path d="M621.74 61.25L623.49 64.1L619.99 64.1Z" fill="none" stroke="#000000" stroke-width="1.05" stroke-linejoin="round"/><path d="M625.39 66.05L627.14 68.9L623.64 68.9Z" fill="none" stroke="#000000" stroke-width="1.05" stroke-linejoin="round"/><path d="M629.05 71.15L630.8 74L627.3 74Z" fill="none" stroke="#000000" stroke-width="1.05" stroke-linejoin="round"/><path d="M632.7 77.15L634.45 80L630.95 80Z" fill="none" stroke="#000000" stroke-width="1.05" stroke-linejoin="round"/><path d="M636.36 84.65L638.11 87.5L634.61 87.5Z" fill="none" stroke="#000000" stroke-width="1.05" stroke-linejoin="round"/><path d="M640.01 93.05L641.76 95.9L638.26 95.9Z" fill="none" stroke="#000000" stroke-width="1.05" stroke-linejoin="round"/><path d="M643.67 101.15L645.42 104L641.92 104Z" fill="none" stroke="#000000" stroke-width="1.05" stroke-linejoin="round"/><path d="M647.32 110.55L649.07 113.4L645.57 113.4Z" fill="none" stroke="#000000" stroke-width="1.05" stroke-linejoin="round"/><path d="M650.98 121.45L652.73 124.3L649.23 124.3Z" fill="none" stroke="#000000" stroke-width="1.05" stroke-linejoin="round"/><path d="M654.63 131.65L656.38 134.5L652.88 134.5Z" fill="none" stroke="#000000" stroke-width="1.05" stroke-linejoin="round"/><path d="M658.29 141.75L660.04 144.6L656.54 144.6Z" fill="none" stroke="#000000" stroke-width="1.05" stroke-linejoin="round"/><path d="M661.94 149.95L663.69 152.8L660.19 152.8Z" fill="none" stroke="#000000" stroke-width="1.05" stroke-linejoin="round"/><path d="M665.6 157.35L667.35 160.2L663.85 160.2Z" fill="none" stroke="#000000" stroke-width="1.05" stroke-linejoin="round"/><path d="M669.25 164.45L671 167.3L667.5 167.3Z" fill="none" stroke="#000000" stroke-width="1.05" stroke-linejoin="round"/><path d="M672.91 170.95L674.66 173.8L671.16 173.8Z" fill="none" stroke="#000000" stroke-width="1.05" stroke-linejoin="round"/><path d="M676.56 176.15L678.31 179L674.81 179Z" fill="none" stroke="#000000" stroke-width="1.05" stroke-linejoin="round"/><path d="M680.22 181.65L681.97 184.5L678.47 184.5Z" fill="none" stroke="#000000" stroke-width="1.05" stroke-linejoin="round"/><path d="M683.88 185.85L685.62 188.7L682.12 188.7Z" fill="none" stroke="#000000" stroke-width="1.05" stroke-linejoin="round"/><path d="M687.53 190.15L689.28 193L685.78 193Z" fill="none" stroke="#000000" stroke-width="1.05" stroke-linejoin="round"/><path d="M691.18 194.15L692.93 197L689.43 197Z" fill="none" stroke="#000000" stroke-width="1.05" stroke-linejoin="round"/><path d="M694.84 197.55L696.59 200.4L693.09 200.4Z" fill="none" stroke="#000000" stroke-width="1.05" stroke-linejoin="round"/><path d="M698.5 200.85L700.25 203.7L696.75 203.7Z" fill="none" stroke="#000000" stroke-width="1.05" stroke-linejoin="round"/><path d="M702.15 203.85L703.9 206.7L700.4 206.7Z" fill="none" stroke="#000000" stroke-width="1.05" stroke-linejoin="round"/><path d="M705.8 206.75L707.55 209.6L704.05 209.6Z" fill="none" stroke="#000000" stroke-width="1.05" stroke-linejoin="round"/><path d="M713.12 211.95L714.87 214.8L711.37 214.8Z" fill="none" stroke="#000000" stroke-width="1.05" stroke-linejoin="round"/><path d="M720.42 217.15L722.17 220L718.67 220Z" fill="none" stroke="#000000" stroke-width="1.05" stroke-linejoin="round"/><path d="M727.73 223.25L729.48 226.1L725.98 226.1Z" fill="none" stroke="#000000" stroke-width="1.05" stroke-linejoin="round"/><path d="M735.04 228.35L736.79 231.2L733.29 231.2Z" fill="none" stroke="#000000" stroke-width="1.05" stroke-linejoin="round"/><path d="M738.7 230.3L740.45 233.15L736.95 233.15Z" fill="none" stroke="#000000" stroke-width="1.05" stroke-linejoin="round"/><path d="M742.36 232.35L744.11 235.2L740.61 235.2Z" fill="none" stroke="#000000" stroke-width="1.05" stroke-linejoin="round"/><path d="M746.01 235.35L747.76 238.2L744.26 238.2Z" fill="none" stroke="#000000" stroke-width="1.05" stroke-linejoin="round"/><path d="M749.66 238.95L751.41 241.8L747.91 241.8Z" fill="none" stroke="#000000" stroke-width="1.05" stroke-linejoin="round"/><path d="M753.32 243.15L755.07 246L751.57 246Z" fill="none" stroke="#000000" stroke-width="1.05" stroke-linejoin="round"/><path d="M756.97 248.15L758.72 251L755.22 251Z" fill="none" stroke="#000000" stroke-width="1.05" stroke-linejoin="round"/><path d="M760.63 253.65L762.38 256.5L758.88 256.5Z" fill="none" stroke="#000000" stroke-width="1.05" stroke-linejoin="round"/><path d="M762.46 257.65L764.21 260.5L760.71 260.5Z" fill="none" stroke="#000000" stroke-width="1.05" stroke-linejoin="round"/><path d="M764.28 260.95L766.03 263.8L762.53 263.8Z" fill="none" stroke="#000000" stroke-width="1.05" stroke-linejoin="round"/><path d="M766.11 264.55L767.86 267.4L764.36 267.4Z" fill="none" stroke="#000000" stroke-width="1.05" stroke-linejoin="round"/><path d="M767.94 268.15L769.69 271L766.19 271Z" fill="none" stroke="#000000" stroke-width="1.05" stroke-linejoin="round"/><path d="M769.77 271.15L771.52 274L768.02 274Z" fill="none" stroke="#000000" stroke-width="1.05" stroke-linejoin="round"/><path d="M771.59 274.25L773.34 277.1L769.84 277.1Z" fill="none" stroke="#000000" stroke-width="1.05" stroke-linejoin="round"/><path d="M773.42 276.65L775.17 279.5L771.67 279.5Z" fill="none" stroke="#000000" stroke-width="1.05" stroke-linejoin="round"/><path d="M775.25 278.95L777 281.8L773.5 281.8Z" fill="none" stroke="#000000" stroke-width="1.05" stroke-linejoin="round"/><path d="M777.08 280.95L778.83 283.8L775.33 283.8Z" fill="none" stroke="#000000" stroke-width="1.05" stroke-linejoin="round"/><path d="M778.9 282.65L780.65 285.5L777.15 285.5Z" fill="none" stroke="#000000" stroke-width="1.05" stroke-linejoin="round"/><path d="M782.56 284.35L784.31 287.2L780.81 287.2Z" fill="none" stroke="#000000" stroke-width="1.05" stroke-linejoin="round"/><path d="M786.21 286.15L787.96 289L784.46 289Z" fill="none" stroke="#000000" stroke-width="1.05" stroke-linejoin="round"/><path d="M789.87 287.05L791.62 289.9L788.12 289.9Z" fill="none" stroke="#000000" stroke-width="1.05" stroke-linejoin="round"/><path d="M793.52 287.75L795.27 290.6L791.77 290.6Z" fill="none" stroke="#000000" stroke-width="1.05" stroke-linejoin="round"/><path d="M797.18 288.45L798.93 291.3L795.43 291.3Z" fill="none" stroke="#000000" stroke-width="1.05" stroke-linejoin="round"/>
<polyline points="614.43,55.7 618.08,59.1 621.74,63.3 625.39,68.1 629.05,73.3 632.7,79.5 636.36,87.5 640.01,96.5 643.67,105.5 647.32,115.5 650.98,126.8 654.63,137.5 658.29,147.7 661.94,156.5 665.6,166.5 669.25,176 676.56,186.4 683.88,195.8 691.18,202.1 698.5,208.1 705.8,214.3 713.12,218.8 720.42,225.1 727.73,229.9 735.04,233.9 738.7,237 742.36,241 746.01,244.3 749.66,248.6 753.32,253.5 756.97,258.5 760.63,263.9 764.28,269.7 767.94,276.1 771.59,281.2 775.25,285.5 778.9,288.3 782.56,291 789.87,292.6 797.18,293.6" fill="none" stroke="#9a9a9a" stroke-width="0.85" stroke-dasharray="3.5,3.2,1,3.2"/>
<path d="M614.43 53.6L616.43 56.9L612.43 56.9Z" fill="#858585"/><path d="M618.08 57L620.08 60.3L616.08 60.3Z" fill="#858585"/><path d="M621.74 61.2L623.74 64.5L619.74 64.5Z" fill="#858585"/><path d="M625.39 66L627.39 69.3L623.39 69.3Z" fill="#858585"/><path d="M629.05 71.2L631.05 74.5L627.05 74.5Z" fill="#858585"/><path d="M632.7 77.4L634.7 80.7L630.7 80.7Z" fill="#858585"/><path d="M636.36 85.4L638.36 88.7L634.36 88.7Z" fill="#858585"/><path d="M640.01 94.4L642.01 97.7L638.01 97.7Z" fill="#858585"/><path d="M643.67 103.4L645.67 106.7L641.67 106.7Z" fill="#858585"/><path d="M647.32 113.4L649.32 116.7L645.32 116.7Z" fill="#858585"/><path d="M650.98 124.7L652.98 128L648.98 128Z" fill="#858585"/><path d="M654.63 135.4L656.63 138.7L652.63 138.7Z" fill="#858585"/><path d="M658.29 145.6L660.29 148.9L656.29 148.9Z" fill="#858585"/><path d="M661.94 154.4L663.94 157.7L659.94 157.7Z" fill="#858585"/><path d="M665.6 164.4L667.6 167.7L663.6 167.7Z" fill="#858585"/><path d="M669.25 173.9L671.25 177.2L667.25 177.2Z" fill="#858585"/><path d="M676.56 184.3L678.56 187.6L674.56 187.6Z" fill="#858585"/><path d="M683.88 193.7L685.88 197L681.88 197Z" fill="#858585"/><path d="M691.18 200L693.18 203.3L689.18 203.3Z" fill="#858585"/><path d="M698.5 206L700.5 209.3L696.5 209.3Z" fill="#858585"/><path d="M705.8 212.2L707.8 215.5L703.8 215.5Z" fill="#858585"/><path d="M713.12 216.7L715.12 220L711.12 220Z" fill="#858585"/><path d="M720.42 223L722.42 226.3L718.42 226.3Z" fill="#858585"/><path d="M727.73 227.8L729.73 231.1L725.73 231.1Z" fill="#858585"/><path d="M735.04 231.8L737.04 235.1L733.04 235.1Z" fill="#858585"/><path d="M738.7 234.9L740.7 238.2L736.7 238.2Z" fill="#858585"/><path d="M742.36 238.9L744.36 242.2L740.36 242.2Z" fill="#858585"/><path d="M746.01 242.2L748.01 245.5L744.01 245.5Z" fill="#858585"/><path d="M749.66 246.5L751.66 249.8L747.66 249.8Z" fill="#858585"/><path d="M753.32 251.4L755.32 254.7L751.32 254.7Z" fill="#858585"/><path d="M756.97 256.4L758.97 259.7L754.97 259.7Z" fill="#858585"/><path d="M760.63 261.8L762.63 265.1L758.63 265.1Z" fill="#858585"/><path d="M764.28 267.6L766.28 270.9L762.28 270.9Z" fill="#858585"/><path d="M767.94 274L769.94 277.3L765.94 277.3Z" fill="#858585"/><path d="M771.59 279.1L773.59 282.4L769.59 282.4Z" fill="#858585"/><path d="M775.25 283.4L777.25 286.7L773.25 286.7Z" fill="#858585"/><path d="M778.9 286.2L780.9 289.5L776.9 289.5Z" fill="#858585"/><path d="M782.56 288.9L784.56 292.2L780.56 292.2Z" fill="#858585"/><path d="M789.87 290.5L791.87 293.8L787.87 293.8Z" fill="#858585"/><path d="M797.18 291.5L799.18 294.8L795.18 294.8Z" fill="#858585"/>
<text transform="translate(723.6,39.9) scale(1.09,1)" font-family='"Liberation Sans", sans-serif' font-size="16.8" text-anchor="end" fill="#000" stroke="#000" stroke-width="0.2">9</text>
<text transform="translate(700.6,39.9) scale(1.17,1)" font-family='"Liberation Sans", sans-serif' font-size="16.8" text-anchor="start" fill="#000" stroke="#000" stroke-width="0.2">=</text>
<text transform="translate(690.2,39.9) scale(1.09,1)" font-family='"Liberation Sans", sans-serif' font-size="16.8" text-anchor="start" fill="#000" stroke="#000" stroke-width="0.2">L</text>
<path d="M732.8 34.3H775.7" stroke="#ff0000" stroke-width="0.9" fill="none"/>
<circle cx="753.9" cy="34.3" r="1.9" fill="none" stroke="#ff0000" stroke-width="0.9"/>
<text transform="translate(723.6,56.25) scale(1.01,1)" font-family='"Liberation Sans", sans-serif' font-size="16.8" text-anchor="end" fill="#000" stroke="#000" stroke-width="0.2">12</text>
<path d="M732.8 50.65H775.7" stroke="#00ff00" stroke-width="0.9" fill="none" stroke-dasharray="5.4,3.1"/>
<circle cx="753.9" cy="50.65" r="2.05" fill="#00ff00"/>
<text transform="translate(723.6,72.6) scale(1.01,1)" font-family='"Liberation Sans", sans-serif' font-size="16.8" text-anchor="end" fill="#000" stroke="#000" stroke-width="0.2">15</text>
<path d="M732.8 67H775.7" stroke="#0000ff" stroke-width="0.9" fill="none" stroke-dasharray="2.9,2.95"/>
<rect x="752.1" y="65.2" width="3.6" height="3.6" fill="none" stroke="#0000ff" stroke-width="0.9"/>
<text transform="translate(723.6,88.95) scale(1.01,1)" font-family='"Liberation Sans", sans-serif' font-size="16.8" text-anchor="end" fill="#000" stroke="#000" stroke-width="0.2">24</text>
<path d="M732.8 83.35H775.7" stroke="#ff00ff" stroke-width="0.9" fill="none" stroke-dasharray="1.2,1.5"/>
<rect x="751.85" y="81.3" width="4.1" height="4.1" fill="#ff00ff"/>
<text transform="translate(723.6,105.3) scale(1.01,1)" font-family='"Liberation Sans", sans-serif' font-size="16.8" text-anchor="end" fill="#000" stroke="#000" stroke-width="0.2">30</text>
<path d="M732.8 99.7H775.7" stroke="#000000" stroke-width="0.9" fill="none" stroke-dasharray="6.4,2.5,1.2,2.7"/>
<path d="M753.9 97.85L755.65 100.7L752.15 100.7Z" fill="none" stroke="#000000" stroke-width="1.05" stroke-linejoin="round"/>
<text transform="translate(723.6,121.65) scale(1.01,1)" font-family='"Liberation Sans", sans-serif' font-size="16.8" text-anchor="end" fill="#000" stroke="#000" stroke-width="0.2">36</text>
<path d="M732.8 116.05H775.7" stroke="#9a9a9a" stroke-width="0.9" fill="none" stroke-dasharray="3.5,3.2,1,3.2"/>
<path d="M753.9 113.95L755.9 117.25L751.9 117.25Z" fill="#858585"/>
<text transform="translate(572,18.2) scale(1.06,1)" font-family='"Liberation Serif", serif' font-style="italic" font-size="23" fill="#000" stroke="#000" stroke-width="0.12">M</text>
<text transform="translate(786.5,35.9) scale(1.0,1)" font-family='"Liberation Serif", serif' font-size="18.5" fill="#000" stroke="#000" stroke-width="0.12">(c)</text>
</g>
<text transform="translate(135.3,360) scale(1.14,1)" font-family='"Liberation Serif", serif' font-style="italic" font-size="22.6" fill="#000" stroke="#000" stroke-width="0.12">T</text>
<path d="M153.3 365.3L161.2 344.1" stroke="#000" stroke-width="0.95" fill="none"/>
<text transform="translate(162.8,360) scale(1.05,1)" font-family='"Liberation Serif", serif' font-style="italic" font-size="22.6" fill="#000" stroke="#000" stroke-width="0.12">D</text>
<text transform="translate(414.5,360) scale(1.14,1)" font-family='"Liberation Serif", serif' font-style="italic" font-size="22.6" fill="#000" stroke="#000" stroke-width="0.12">T</text>
<path d="M432.5 365.3L440.4 344.1" stroke="#000" stroke-width="0.95" fill="none"/>
<text transform="translate(442,360) scale(1.05,1)" font-family='"Liberation Serif", serif' font-style="italic" font-size="22.6" fill="#000" stroke="#000" stroke-width="0.12">D</text>
<text transform="translate(694.5,360) scale(1.14,1)" font-family='"Liberation Serif", serif' font-style="italic" font-size="22.6" fill="#000" stroke="#000" stroke-width="0.12">T</text>
<path d="M712.5 365.3L720.4 344.1" stroke="#000" stroke-width="0.95" fill="none"/>
<text transform="translate(722,360) scale(1.05,1)" font-family='"Liberation Serif", serif' font-style="italic" font-size="22.6" fill="#000" stroke="#000" stroke-width="0.12">D</text>
</svg>
</body></html>
